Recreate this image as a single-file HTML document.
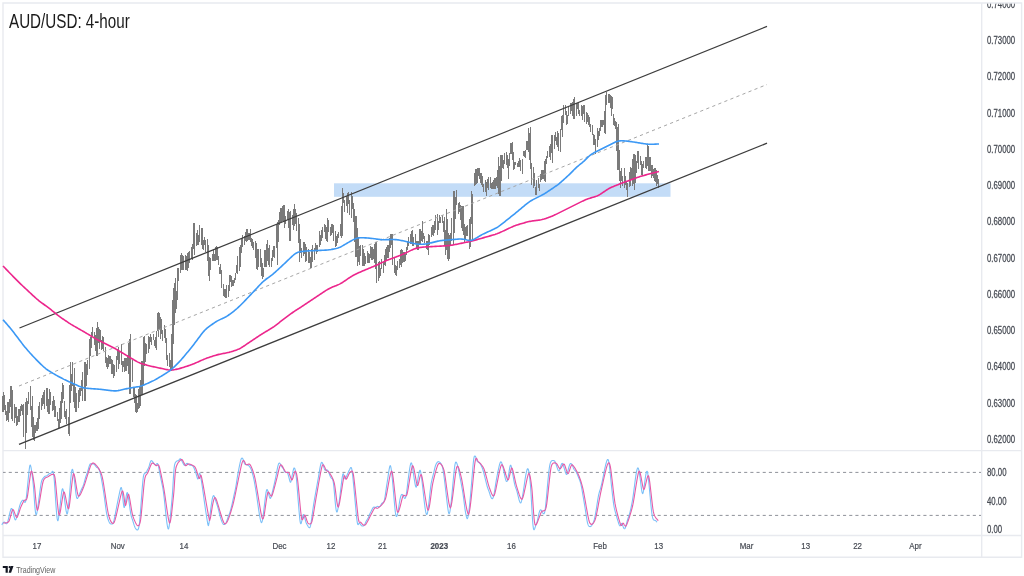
<!DOCTYPE html>
<html><head><meta charset="utf-8"><style>
html,body{margin:0;padding:0;width:1024px;height:576px;overflow:hidden;background:#fff}
</style></head><body>
<svg width="1024" height="576" viewBox="0 0 1024 576" style="position:absolute;left:0;top:0;will-change:transform">
<defs><clipPath id="pa"><rect x="982" y="3.8" width="40" height="446"/></clipPath></defs>
<rect width="1024" height="576" fill="#ffffff"/>
<g fill="none" stroke="#e8eaef" stroke-width="1.4">
<path d="M3,3 H1021.6 V557.2 H3 Z"/>
<path d="M981.7,3 V557.2"/>
<path d="M3,450.6 H1021.6"/>
<path d="M3,535.5 H1021.6"/>
</g>
<rect x="334" y="183.3" width="336.5" height="13.5" fill="#c3dcf7"/>
<g fill="#7a7a7a" shape-rendering="crispEdges"><rect x="2.48" y="396.03" width="1.05" height="15.72"/><rect x="3.71" y="394.57" width="1.05" height="14.95"/><rect x="4.94" y="405.26" width="1.05" height="10.10"/><rect x="6.17" y="410.91" width="1.05" height="9.98"/><rect x="7.40" y="401.65" width="1.05" height="18.00"/><rect x="8.63" y="399.07" width="1.05" height="14.34"/><rect x="9.86" y="386.00" width="1.05" height="21.29"/><rect x="11.09" y="394.21" width="1.05" height="24.61"/><rect x="12.32" y="389.73" width="1.05" height="31.29"/><rect x="13.55" y="403.81" width="1.05" height="19.58"/><rect x="14.78" y="406.97" width="1.05" height="10.99"/><rect x="16.01" y="406.77" width="1.05" height="15.07"/><rect x="17.24" y="416.47" width="1.05" height="8.39"/><rect x="18.47" y="409.24" width="1.05" height="13.12"/><rect x="19.70" y="405.60" width="1.05" height="10.45"/><rect x="20.93" y="403.83" width="1.05" height="7.36"/><rect x="22.16" y="404.89" width="1.05" height="9.97"/><rect x="23.39" y="403.96" width="1.05" height="32.55"/><rect x="24.62" y="401.52" width="1.05" height="31.01"/><rect x="25.85" y="398.15" width="1.05" height="34.75"/><rect x="27.08" y="401.23" width="1.05" height="13.37"/><rect x="28.31" y="391.92" width="1.05" height="12.16"/><rect x="29.54" y="390.11" width="1.05" height="19.91"/><rect x="30.77" y="405.92" width="1.05" height="21.32"/><rect x="32.00" y="403.95" width="1.05" height="33.23"/><rect x="33.23" y="417.18" width="1.05" height="23.24"/><rect x="34.46" y="425.00" width="1.05" height="8.15"/><rect x="35.69" y="421.93" width="1.05" height="9.09"/><rect x="36.91" y="418.37" width="1.05" height="12.33"/><rect x="38.14" y="405.70" width="1.05" height="22.92"/><rect x="39.37" y="402.23" width="1.05" height="17.17"/><rect x="40.60" y="398.00" width="1.05" height="12.34"/><rect x="41.83" y="395.45" width="1.05" height="10.23"/><rect x="43.06" y="392.24" width="1.05" height="11.75"/><rect x="44.29" y="390.25" width="1.05" height="18.45"/><rect x="45.52" y="388.48" width="1.05" height="17.16"/><rect x="46.75" y="389.52" width="1.05" height="22.05"/><rect x="47.98" y="399.47" width="1.05" height="14.29"/><rect x="49.21" y="390.37" width="1.05" height="22.37"/><rect x="50.44" y="392.20" width="1.05" height="12.84"/><rect x="51.67" y="401.02" width="1.05" height="9.82"/><rect x="52.90" y="395.72" width="1.05" height="14.66"/><rect x="54.13" y="399.57" width="1.05" height="17.49"/><rect x="55.36" y="405.87" width="1.05" height="11.04"/><rect x="56.59" y="411.88" width="1.05" height="8.81"/><rect x="57.82" y="419.09" width="1.05" height="8.59"/><rect x="59.05" y="407.75" width="1.05" height="19.50"/><rect x="60.28" y="401.45" width="1.05" height="21.37"/><rect x="61.51" y="384.05" width="1.05" height="16.80"/><rect x="62.74" y="384.97" width="1.05" height="14.47"/><rect x="63.97" y="401.42" width="1.05" height="15.97"/><rect x="65.20" y="411.21" width="1.05" height="7.30"/><rect x="66.43" y="408.78" width="1.05" height="15.25"/><rect x="67.66" y="416.70" width="1.05" height="17.24"/><rect x="68.89" y="385.27" width="1.05" height="48.93"/><rect x="70.12" y="366.78" width="1.05" height="35.94"/><rect x="71.35" y="374.48" width="1.05" height="16.92"/><rect x="72.58" y="382.83" width="1.05" height="19.14"/><rect x="73.81" y="367.82" width="1.05" height="37.40"/><rect x="75.04" y="386.95" width="1.05" height="24.68"/><rect x="76.27" y="400.98" width="1.05" height="10.62"/><rect x="77.50" y="390.27" width="1.05" height="17.89"/><rect x="78.73" y="388.00" width="1.05" height="14.10"/><rect x="79.96" y="388.00" width="1.05" height="7.64"/><rect x="81.19" y="380.15" width="1.05" height="10.88"/><rect x="82.42" y="372.06" width="1.05" height="28.64"/><rect x="83.65" y="362.48" width="1.05" height="25.77"/><rect x="84.88" y="362.47" width="1.05" height="35.26"/><rect x="86.11" y="364.09" width="1.05" height="21.54"/><rect x="87.34" y="359.73" width="1.05" height="14.89"/><rect x="88.58" y="338.99" width="1.05" height="30.21"/><rect x="89.81" y="336.55" width="1.05" height="19.62"/><rect x="91.04" y="332.49" width="1.05" height="15.09"/><rect x="92.27" y="326.70" width="1.05" height="9.27"/><rect x="93.50" y="331.97" width="1.05" height="12.53"/><rect x="94.73" y="334.59" width="1.05" height="16.61"/><rect x="95.96" y="327.78" width="1.05" height="28.09"/><rect x="97.19" y="329.06" width="1.05" height="25.81"/><rect x="98.42" y="326.61" width="1.05" height="16.10"/><rect x="99.65" y="329.88" width="1.05" height="11.74"/><rect x="100.88" y="339.66" width="1.05" height="10.35"/><rect x="102.11" y="335.52" width="1.05" height="13.90"/><rect x="103.34" y="337.36" width="1.05" height="13.72"/><rect x="104.57" y="346.50" width="1.05" height="16.88"/><rect x="105.80" y="357.10" width="1.05" height="9.76"/><rect x="107.03" y="358.11" width="1.05" height="10.73"/><rect x="108.26" y="355.08" width="1.05" height="12.05"/><rect x="109.49" y="356.05" width="1.05" height="7.82"/><rect x="110.72" y="358.97" width="1.05" height="14.53"/><rect x="111.95" y="360.10" width="1.05" height="14.35"/><rect x="113.18" y="364.38" width="1.05" height="13.09"/><rect x="114.41" y="364.75" width="1.05" height="10.78"/><rect x="115.64" y="356.05" width="1.05" height="16.15"/><rect x="116.87" y="349.23" width="1.05" height="10.93"/><rect x="118.10" y="346.79" width="1.05" height="13.10"/><rect x="119.33" y="352.25" width="1.05" height="11.55"/><rect x="120.56" y="353.75" width="1.05" height="10.80"/><rect x="121.79" y="360.84" width="1.05" height="11.55"/><rect x="123.02" y="360.52" width="1.05" height="6.06"/><rect x="124.25" y="357.63" width="1.05" height="14.03"/><rect x="125.48" y="357.90" width="1.05" height="12.84"/><rect x="126.71" y="355.00" width="1.05" height="10.70"/><rect x="127.94" y="342.70" width="1.05" height="31.25"/><rect x="129.17" y="339.47" width="1.05" height="54.28"/><rect x="130.40" y="338.78" width="1.05" height="50.68"/><rect x="131.63" y="360.43" width="1.05" height="21.34"/><rect x="132.86" y="387.25" width="1.05" height="9.92"/><rect x="134.09" y="388.09" width="1.05" height="15.13"/><rect x="135.32" y="394.10" width="1.05" height="17.98"/><rect x="136.55" y="402.78" width="1.05" height="9.32"/><rect x="137.78" y="388.81" width="1.05" height="19.69"/><rect x="139.01" y="386.85" width="1.05" height="21.03"/><rect x="140.24" y="380.34" width="1.05" height="19.96"/><rect x="141.47" y="361.48" width="1.05" height="33.95"/><rect x="142.69" y="340.58" width="1.05" height="45.57"/><rect x="143.92" y="346.24" width="1.05" height="19.83"/><rect x="145.15" y="343.19" width="1.05" height="19.06"/><rect x="146.38" y="343.57" width="1.05" height="10.85"/><rect x="147.61" y="336.19" width="1.05" height="16.46"/><rect x="148.84" y="337.42" width="1.05" height="11.33"/><rect x="150.07" y="333.64" width="1.05" height="8.71"/><rect x="151.30" y="336.64" width="1.05" height="8.40"/><rect x="152.53" y="333.97" width="1.05" height="5.68"/><rect x="153.76" y="339.74" width="1.05" height="6.75"/><rect x="154.99" y="337.11" width="1.05" height="11.36"/><rect x="156.22" y="331.44" width="1.05" height="17.16"/><rect x="157.45" y="312.79" width="1.05" height="18.02"/><rect x="158.68" y="312.76" width="1.05" height="16.92"/><rect x="159.91" y="326.34" width="1.05" height="12.08"/><rect x="161.14" y="318.85" width="1.05" height="15.20"/><rect x="162.37" y="330.44" width="1.05" height="10.66"/><rect x="163.60" y="324.91" width="1.05" height="12.63"/><rect x="164.83" y="329.21" width="1.05" height="14.12"/><rect x="166.06" y="338.30" width="1.05" height="22.01"/><rect x="167.29" y="355.44" width="1.05" height="10.25"/><rect x="168.52" y="353.07" width="1.05" height="13.55"/><rect x="169.75" y="360.20" width="1.05" height="10.54"/><rect x="170.98" y="333.82" width="1.05" height="37.15"/><rect x="172.21" y="326.25" width="1.05" height="44.06"/><rect x="173.44" y="288.06" width="1.05" height="56.30"/><rect x="174.67" y="277.79" width="1.05" height="35.16"/><rect x="175.90" y="290.67" width="1.05" height="18.63"/><rect x="177.13" y="268.47" width="1.05" height="26.04"/><rect x="178.36" y="268.26" width="1.05" height="13.22"/><rect x="179.59" y="255.16" width="1.05" height="17.82"/><rect x="180.82" y="252.59" width="1.05" height="9.80"/><rect x="182.05" y="255.06" width="1.05" height="14.94"/><rect x="183.28" y="256.31" width="1.05" height="13.69"/><rect x="184.51" y="255.19" width="1.05" height="15.25"/><rect x="185.74" y="255.86" width="1.05" height="13.67"/><rect x="186.97" y="252.55" width="1.05" height="15.33"/><rect x="188.20" y="252.23" width="1.05" height="15.75"/><rect x="189.43" y="251.18" width="1.05" height="11.95"/><rect x="190.66" y="246.91" width="1.05" height="10.82"/><rect x="191.89" y="243.92" width="1.05" height="15.80"/><rect x="193.12" y="222.86" width="1.05" height="25.79"/><rect x="194.35" y="230.43" width="1.05" height="20.95"/><rect x="195.58" y="232.96" width="1.05" height="12.78"/><rect x="196.81" y="229.71" width="1.05" height="15.77"/><rect x="198.04" y="235.31" width="1.05" height="9.85"/><rect x="199.27" y="225.36" width="1.05" height="16.76"/><rect x="200.50" y="228.14" width="1.05" height="16.83"/><rect x="201.73" y="227.74" width="1.05" height="21.38"/><rect x="202.96" y="239.99" width="1.05" height="10.01"/><rect x="204.19" y="237.20" width="1.05" height="7.78"/><rect x="205.42" y="239.96" width="1.05" height="12.03"/><rect x="206.65" y="239.46" width="1.05" height="21.11"/><rect x="207.88" y="244.89" width="1.05" height="30.89"/><rect x="209.11" y="257.39" width="1.05" height="20.42"/><rect x="210.34" y="257.91" width="1.05" height="11.69"/><rect x="211.57" y="253.61" width="1.05" height="7.26"/><rect x="212.80" y="249.70" width="1.05" height="11.27"/><rect x="214.03" y="254.13" width="1.05" height="7.03"/><rect x="215.26" y="247.28" width="1.05" height="13.59"/><rect x="216.49" y="247.26" width="1.05" height="12.62"/><rect x="217.72" y="255.57" width="1.05" height="9.78"/><rect x="218.95" y="267.32" width="1.05" height="7.02"/><rect x="220.18" y="264.16" width="1.05" height="9.81"/><rect x="221.41" y="269.83" width="1.05" height="17.76"/><rect x="222.64" y="284.45" width="1.05" height="11.59"/><rect x="223.87" y="288.76" width="1.05" height="8.61"/><rect x="225.10" y="289.40" width="1.05" height="8.58"/><rect x="226.33" y="287.35" width="1.05" height="10.31"/><rect x="227.56" y="285.25" width="1.05" height="11.76"/><rect x="228.79" y="275.24" width="1.05" height="16.11"/><rect x="230.02" y="275.24" width="1.05" height="7.12"/><rect x="231.25" y="276.27" width="1.05" height="10.65"/><rect x="232.48" y="279.84" width="1.05" height="6.46"/><rect x="233.71" y="277.72" width="1.05" height="5.73"/><rect x="234.94" y="273.27" width="1.05" height="7.11"/><rect x="236.17" y="265.39" width="1.05" height="7.60"/><rect x="237.40" y="255.55" width="1.05" height="18.41"/><rect x="238.63" y="247.47" width="1.05" height="16.57"/><rect x="239.86" y="244.72" width="1.05" height="22.28"/><rect x="241.09" y="237.71" width="1.05" height="15.16"/><rect x="242.32" y="235.16" width="1.05" height="11.57"/><rect x="243.55" y="235.50" width="1.05" height="9.50"/><rect x="244.78" y="232.26" width="1.05" height="8.29"/><rect x="246.01" y="229.40" width="1.05" height="12.11"/><rect x="247.24" y="229.87" width="1.05" height="11.18"/><rect x="248.47" y="232.97" width="1.05" height="7.08"/><rect x="249.70" y="234.61" width="1.05" height="7.12"/><rect x="250.93" y="238.44" width="1.05" height="7.59"/><rect x="252.16" y="238.70" width="1.05" height="9.61"/><rect x="253.39" y="242.08" width="1.05" height="7.46"/><rect x="254.62" y="241.43" width="1.05" height="16.68"/><rect x="255.85" y="242.75" width="1.05" height="26.50"/><rect x="257.08" y="254.94" width="1.05" height="14.98"/><rect x="258.31" y="248.75" width="1.05" height="18.52"/><rect x="259.54" y="248.75" width="1.05" height="18.25"/><rect x="260.77" y="257.79" width="1.05" height="18.35"/><rect x="262.00" y="268.32" width="1.05" height="10.33"/><rect x="263.23" y="267.58" width="1.05" height="9.07"/><rect x="264.46" y="249.68" width="1.05" height="16.83"/><rect x="265.69" y="244.18" width="1.05" height="22.92"/><rect x="266.92" y="240.53" width="1.05" height="19.30"/><rect x="268.15" y="247.89" width="1.05" height="16.98"/><rect x="269.38" y="248.65" width="1.05" height="18.07"/><rect x="270.61" y="257.66" width="1.05" height="9.67"/><rect x="271.84" y="250.33" width="1.05" height="10.64"/><rect x="273.07" y="245.58" width="1.05" height="11.77"/><rect x="274.30" y="245.95" width="1.05" height="12.37"/><rect x="275.53" y="224.29" width="1.05" height="23.78"/><rect x="276.76" y="224.03" width="1.05" height="39.91"/><rect x="277.99" y="219.61" width="1.05" height="21.95"/><rect x="279.22" y="212.39" width="1.05" height="13.04"/><rect x="280.45" y="208.08" width="1.05" height="13.98"/><rect x="281.68" y="205.67" width="1.05" height="15.72"/><rect x="282.91" y="205.06" width="1.05" height="17.30"/><rect x="284.14" y="207.47" width="1.05" height="16.51"/><rect x="285.37" y="215.92" width="1.05" height="8.02"/><rect x="286.60" y="211.00" width="1.05" height="8.65"/><rect x="287.83" y="209.09" width="1.05" height="18.83"/><rect x="289.06" y="212.09" width="1.05" height="28.56"/><rect x="290.29" y="219.86" width="1.05" height="19.59"/><rect x="291.52" y="214.93" width="1.05" height="10.14"/><rect x="292.75" y="208.99" width="1.05" height="20.90"/><rect x="293.98" y="208.66" width="1.05" height="17.12"/><rect x="295.21" y="209.45" width="1.05" height="14.30"/><rect x="296.44" y="212.56" width="1.05" height="18.64"/><rect x="297.67" y="217.67" width="1.05" height="25.74"/><rect x="298.90" y="233.73" width="1.05" height="27.99"/><rect x="300.13" y="239.19" width="1.05" height="14.12"/><rect x="301.36" y="248.06" width="1.05" height="9.94"/><rect x="302.59" y="242.39" width="1.05" height="13.64"/><rect x="303.82" y="242.01" width="1.05" height="11.73"/><rect x="305.05" y="244.47" width="1.05" height="17.51"/><rect x="306.28" y="246.93" width="1.05" height="14.10"/><rect x="307.51" y="249.39" width="1.05" height="13.95"/><rect x="308.74" y="251.77" width="1.05" height="10.77"/><rect x="309.97" y="256.90" width="1.05" height="11.04"/><rect x="311.20" y="248.79" width="1.05" height="17.52"/><rect x="312.43" y="244.65" width="1.05" height="17.16"/><rect x="313.66" y="248.07" width="1.05" height="12.09"/><rect x="314.89" y="242.72" width="1.05" height="8.52"/><rect x="316.12" y="245.06" width="1.05" height="9.41"/><rect x="317.36" y="244.61" width="1.05" height="7.42"/><rect x="318.59" y="230.97" width="1.05" height="15.91"/><rect x="319.82" y="235.14" width="1.05" height="9.65"/><rect x="321.05" y="229.68" width="1.05" height="11.55"/><rect x="322.28" y="227.39" width="1.05" height="10.31"/><rect x="323.51" y="223.69" width="1.05" height="7.86"/><rect x="324.74" y="225.05" width="1.05" height="13.76"/><rect x="325.97" y="227.24" width="1.05" height="14.21"/><rect x="327.20" y="217.86" width="1.05" height="15.19"/><rect x="328.43" y="220.20" width="1.05" height="11.71"/><rect x="329.66" y="226.95" width="1.05" height="9.05"/><rect x="330.89" y="223.75" width="1.05" height="11.47"/><rect x="332.12" y="223.75" width="1.05" height="8.82"/><rect x="333.35" y="225.15" width="1.05" height="16.28"/><rect x="334.58" y="230.71" width="1.05" height="16.02"/><rect x="335.81" y="236.24" width="1.05" height="9.98"/><rect x="337.04" y="234.44" width="1.05" height="8.48"/><rect x="338.27" y="231.98" width="1.05" height="6.36"/><rect x="339.50" y="223.50" width="1.05" height="12.47"/><rect x="340.73" y="206.07" width="1.05" height="32.20"/><rect x="341.96" y="189.26" width="1.05" height="18.17"/><rect x="343.19" y="192.94" width="1.05" height="10.12"/><rect x="344.42" y="199.76" width="1.05" height="12.49"/><rect x="345.65" y="195.81" width="1.05" height="9.88"/><rect x="346.88" y="193.00" width="1.05" height="13.76"/><rect x="348.11" y="191.90" width="1.05" height="11.65"/><rect x="349.34" y="200.20" width="1.05" height="14.44"/><rect x="350.57" y="202.22" width="1.05" height="14.98"/><rect x="351.80" y="195.81" width="1.05" height="13.64"/><rect x="353.03" y="202.62" width="1.05" height="19.53"/><rect x="354.26" y="208.94" width="1.05" height="33.54"/><rect x="355.49" y="216.23" width="1.05" height="41.09"/><rect x="356.72" y="234.43" width="1.05" height="31.06"/><rect x="357.95" y="236.84" width="1.05" height="24.87"/><rect x="359.18" y="246.00" width="1.05" height="18.79"/><rect x="360.41" y="245.14" width="1.05" height="11.29"/><rect x="361.64" y="254.99" width="1.05" height="10.51"/><rect x="362.87" y="249.00" width="1.05" height="16.50"/><rect x="364.10" y="254.78" width="1.05" height="10.72"/><rect x="365.33" y="255.91" width="1.05" height="8.27"/><rect x="366.56" y="251.34" width="1.05" height="11.66"/><rect x="367.79" y="252.74" width="1.05" height="10.26"/><rect x="369.02" y="254.41" width="1.05" height="8.59"/><rect x="370.25" y="245.51" width="1.05" height="12.75"/><rect x="371.48" y="247.17" width="1.05" height="13.11"/><rect x="372.71" y="248.82" width="1.05" height="10.51"/><rect x="373.94" y="243.79" width="1.05" height="19.54"/><rect x="375.17" y="242.33" width="1.05" height="26.39"/><rect x="376.40" y="249.35" width="1.05" height="31.67"/><rect x="377.63" y="262.05" width="1.05" height="18.92"/><rect x="378.86" y="261.47" width="1.05" height="16.22"/><rect x="380.09" y="267.91" width="1.05" height="8.58"/><rect x="381.32" y="259.37" width="1.05" height="9.19"/><rect x="382.55" y="261.83" width="1.05" height="11.07"/><rect x="383.78" y="255.15" width="1.05" height="9.87"/><rect x="385.01" y="249.17" width="1.05" height="16.81"/><rect x="386.24" y="247.33" width="1.05" height="12.21"/><rect x="387.47" y="245.44" width="1.05" height="12.50"/><rect x="388.70" y="238.16" width="1.05" height="14.09"/><rect x="389.93" y="237.31" width="1.05" height="10.54"/><rect x="391.16" y="234.25" width="1.05" height="11.17"/><rect x="392.39" y="237.92" width="1.05" height="27.51"/><rect x="393.62" y="257.10" width="1.05" height="16.18"/><rect x="394.85" y="264.85" width="1.05" height="10.26"/><rect x="396.08" y="266.30" width="1.05" height="7.76"/><rect x="397.31" y="260.96" width="1.05" height="9.41"/><rect x="398.54" y="258.57" width="1.05" height="9.25"/><rect x="399.77" y="249.94" width="1.05" height="14.77"/><rect x="401.00" y="257.86" width="1.05" height="8.97"/><rect x="402.23" y="250.28" width="1.05" height="12.79"/><rect x="403.46" y="251.51" width="1.05" height="10.26"/><rect x="404.69" y="254.08" width="1.05" height="6.45"/><rect x="405.92" y="246.95" width="1.05" height="7.60"/><rect x="407.15" y="240.80" width="1.05" height="9.17"/><rect x="408.38" y="237.07" width="1.05" height="9.34"/><rect x="409.61" y="234.15" width="1.05" height="9.40"/><rect x="410.84" y="231.23" width="1.05" height="12.32"/><rect x="412.07" y="232.24" width="1.05" height="13.68"/><rect x="413.30" y="236.70" width="1.05" height="9.27"/><rect x="414.53" y="233.86" width="1.05" height="9.94"/><rect x="415.76" y="241.38" width="1.05" height="7.17"/><rect x="416.99" y="240.60" width="1.05" height="9.28"/><rect x="418.22" y="241.31" width="1.05" height="8.61"/><rect x="419.45" y="228.51" width="1.05" height="16.55"/><rect x="420.68" y="230.89" width="1.05" height="9.67"/><rect x="421.91" y="229.56" width="1.05" height="12.78"/><rect x="423.14" y="233.28" width="1.05" height="5.26"/><rect x="424.37" y="235.51" width="1.05" height="7.43"/><rect x="425.60" y="240.50" width="1.05" height="8.38"/><rect x="426.83" y="240.89" width="1.05" height="8.93"/><rect x="428.06" y="234.14" width="1.05" height="14.08"/><rect x="429.29" y="234.84" width="1.05" height="10.12"/><rect x="430.52" y="226.51" width="1.05" height="10.78"/><rect x="431.75" y="225.22" width="1.05" height="9.43"/><rect x="432.98" y="224.88" width="1.05" height="10.62"/><rect x="434.21" y="221.49" width="1.05" height="11.96"/><rect x="435.44" y="214.71" width="1.05" height="15.48"/><rect x="436.67" y="213.81" width="1.05" height="16.75"/><rect x="437.90" y="221.04" width="1.05" height="8.49"/><rect x="439.13" y="215.49" width="1.05" height="7.38"/><rect x="440.36" y="216.90" width="1.05" height="6.35"/><rect x="441.59" y="215.24" width="1.05" height="8.21"/><rect x="442.82" y="221.43" width="1.05" height="10.84"/><rect x="444.05" y="216.58" width="1.05" height="28.99"/><rect x="445.28" y="229.91" width="1.05" height="24.83"/><rect x="446.51" y="219.25" width="1.05" height="39.97"/><rect x="447.74" y="232.54" width="1.05" height="17.66"/><rect x="448.97" y="234.87" width="1.05" height="24.26"/><rect x="450.20" y="233.24" width="1.05" height="12.64"/><rect x="451.43" y="218.36" width="1.05" height="22.31"/><rect x="452.66" y="191.22" width="1.05" height="53.56"/><rect x="453.89" y="190.61" width="1.05" height="24.27"/><rect x="455.12" y="196.84" width="1.05" height="21.69"/><rect x="456.35" y="190.00" width="1.05" height="15.00"/><rect x="457.58" y="202.74" width="1.05" height="11.01"/><rect x="458.81" y="202.45" width="1.05" height="9.89"/><rect x="460.04" y="204.88" width="1.05" height="15.49"/><rect x="461.27" y="205.59" width="1.05" height="22.30"/><rect x="462.50" y="206.20" width="1.05" height="28.77"/><rect x="463.73" y="223.68" width="1.05" height="19.42"/><rect x="464.96" y="227.49" width="1.05" height="12.19"/><rect x="466.19" y="226.42" width="1.05" height="9.56"/><rect x="467.42" y="224.86" width="1.05" height="11.12"/><rect x="468.65" y="218.64" width="1.05" height="16.85"/><rect x="469.88" y="216.97" width="1.05" height="30.42"/><rect x="471.11" y="190.51" width="1.05" height="33.62"/><rect x="472.34" y="194.42" width="1.05" height="26.02"/><rect x="473.57" y="172.77" width="1.05" height="13.42"/><rect x="474.80" y="168.53" width="1.05" height="16.32"/><rect x="476.03" y="168.64" width="1.05" height="14.90"/><rect x="477.26" y="172.88" width="1.05" height="9.75"/><rect x="478.49" y="167.75" width="1.05" height="7.84"/><rect x="479.72" y="173.29" width="1.05" height="9.43"/><rect x="480.95" y="173.30" width="1.05" height="11.78"/><rect x="482.18" y="176.12" width="1.05" height="10.64"/><rect x="483.41" y="183.85" width="1.05" height="7.67"/><rect x="484.64" y="179.81" width="1.05" height="12.32"/><rect x="485.87" y="181.66" width="1.05" height="13.43"/><rect x="487.10" y="179.24" width="1.05" height="8.32"/><rect x="488.33" y="176.76" width="1.05" height="13.50"/><rect x="489.56" y="177.12" width="1.05" height="10.48"/><rect x="490.79" y="182.83" width="1.05" height="6.00"/><rect x="492.02" y="181.57" width="1.05" height="7.43"/><rect x="493.25" y="180.31" width="1.05" height="8.69"/><rect x="494.48" y="177.98" width="1.05" height="11.00"/><rect x="495.71" y="176.75" width="1.05" height="8.82"/><rect x="496.94" y="170.09" width="1.05" height="17.86"/><rect x="498.17" y="157.14" width="1.05" height="37.17"/><rect x="499.40" y="165.89" width="1.05" height="29.97"/><rect x="500.63" y="154.92" width="1.05" height="26.51"/><rect x="501.86" y="155.38" width="1.05" height="12.73"/><rect x="503.09" y="159.98" width="1.05" height="8.98"/><rect x="504.32" y="152.66" width="1.05" height="11.70"/><rect x="505.55" y="151.87" width="1.05" height="13.34"/><rect x="506.78" y="154.66" width="1.05" height="13.28"/><rect x="508.01" y="159.61" width="1.05" height="17.87"/><rect x="509.24" y="153.09" width="1.05" height="12.76"/><rect x="510.47" y="142.93" width="1.05" height="11.11"/><rect x="511.70" y="142.86" width="1.05" height="15.62"/><rect x="512.93" y="152.18" width="1.05" height="15.82"/><rect x="514.16" y="161.88" width="1.05" height="7.03"/><rect x="515.39" y="161.55" width="1.05" height="3.14"/><rect x="516.62" y="162.61" width="1.05" height="4.38"/><rect x="517.85" y="160.97" width="1.05" height="5.86"/><rect x="519.08" y="157.82" width="1.05" height="6.38"/><rect x="520.31" y="159.57" width="1.05" height="11.27"/><rect x="521.54" y="158.77" width="1.05" height="15.05"/><rect x="522.77" y="150.96" width="1.05" height="5.30"/><rect x="524.00" y="151.18" width="1.05" height="5.56"/><rect x="525.23" y="149.99" width="1.05" height="7.59"/><rect x="526.46" y="141.31" width="1.05" height="8.90"/><rect x="527.69" y="128.42" width="1.05" height="23.13"/><rect x="528.92" y="133.33" width="1.05" height="26.75"/><rect x="530.15" y="126.77" width="1.05" height="41.97"/><rect x="531.38" y="163.12" width="1.05" height="21.44"/><rect x="532.61" y="166.79" width="1.05" height="19.65"/><rect x="533.84" y="172.86" width="1.05" height="13.25"/><rect x="535.07" y="186.82" width="1.05" height="8.18"/><rect x="536.30" y="180.15" width="1.05" height="7.79"/><rect x="537.53" y="177.57" width="1.05" height="10.40"/><rect x="538.76" y="183.59" width="1.05" height="7.29"/><rect x="539.99" y="173.86" width="1.05" height="8.39"/><rect x="541.22" y="170.17" width="1.05" height="9.96"/><rect x="542.45" y="170.47" width="1.05" height="8.98"/><rect x="543.68" y="161.19" width="1.05" height="20.13"/><rect x="544.91" y="159.30" width="1.05" height="11.31"/><rect x="546.14" y="155.92" width="1.05" height="7.79"/><rect x="547.37" y="151.05" width="1.05" height="6.74"/><rect x="548.60" y="146.07" width="1.05" height="10.56"/><rect x="549.83" y="148.98" width="1.05" height="11.48"/><rect x="551.06" y="135.12" width="1.05" height="18.17"/><rect x="552.29" y="146.43" width="1.05" height="15.38"/><rect x="553.52" y="135.36" width="1.05" height="13.50"/><rect x="554.75" y="132.43" width="1.05" height="8.87"/><rect x="555.98" y="136.55" width="1.05" height="8.07"/><rect x="557.21" y="131.09" width="1.05" height="16.19"/><rect x="558.44" y="133.05" width="1.05" height="18.38"/><rect x="559.67" y="135.99" width="1.05" height="15.41"/><rect x="560.90" y="115.96" width="1.05" height="13.90"/><rect x="562.13" y="115.26" width="1.05" height="17.53"/><rect x="563.36" y="104.61" width="1.05" height="17.90"/><rect x="564.59" y="104.67" width="1.05" height="10.03"/><rect x="565.82" y="111.01" width="1.05" height="13.85"/><rect x="567.05" y="115.04" width="1.05" height="9.03"/><rect x="568.28" y="105.55" width="1.05" height="10.71"/><rect x="569.51" y="102.75" width="1.05" height="11.12"/><rect x="570.74" y="102.75" width="1.05" height="8.64"/><rect x="571.97" y="102.05" width="1.05" height="14.02"/><rect x="573.20" y="98.54" width="1.05" height="20.40"/><rect x="574.43" y="98.22" width="1.05" height="13.26"/><rect x="575.66" y="103.15" width="1.05" height="12.77"/><rect x="576.89" y="102.77" width="1.05" height="6.18"/><rect x="578.12" y="102.98" width="1.05" height="10.79"/><rect x="579.35" y="109.71" width="1.05" height="6.63"/><rect x="580.58" y="104.58" width="1.05" height="10.93"/><rect x="581.81" y="105.60" width="1.05" height="14.12"/><rect x="583.04" y="105.25" width="1.05" height="8.59"/><rect x="584.27" y="110.68" width="1.05" height="11.69"/><rect x="585.50" y="112.20" width="1.05" height="11.87"/><rect x="586.73" y="112.95" width="1.05" height="9.25"/><rect x="587.96" y="114.79" width="1.05" height="9.73"/><rect x="589.19" y="116.82" width="1.05" height="9.99"/><rect x="590.42" y="123.94" width="1.05" height="7.84"/><rect x="591.65" y="125.45" width="1.05" height="9.23"/><rect x="592.88" y="134.46" width="1.05" height="10.40"/><rect x="594.11" y="134.81" width="1.05" height="10.14"/><rect x="595.34" y="142.52" width="1.05" height="11.41"/><rect x="596.57" y="133.30" width="1.05" height="13.28"/><rect x="597.80" y="131.41" width="1.05" height="8.97"/><rect x="599.03" y="128.43" width="1.05" height="7.10"/><rect x="600.26" y="120.15" width="1.05" height="11.06"/><rect x="601.49" y="119.64" width="1.05" height="7.71"/><rect x="602.72" y="119.62" width="1.05" height="5.35"/><rect x="603.95" y="110.51" width="1.05" height="22.37"/><rect x="605.18" y="105.62" width="1.05" height="27.19"/><rect x="606.41" y="91.66" width="1.05" height="13.21"/><rect x="607.64" y="93.82" width="1.05" height="8.96"/><rect x="608.87" y="94.25" width="1.05" height="8.75"/><rect x="610.10" y="95.08" width="1.05" height="7.30"/><rect x="611.33" y="96.23" width="1.05" height="19.81"/><rect x="612.56" y="113.97" width="1.05" height="10.67"/><rect x="613.79" y="118.48" width="1.05" height="7.85"/><rect x="615.02" y="120.67" width="1.05" height="8.77"/><rect x="616.25" y="122.29" width="1.05" height="28.71"/><rect x="617.48" y="126.66" width="1.05" height="43.28"/><rect x="618.71" y="149.63" width="1.05" height="31.02"/><rect x="619.94" y="170.61" width="1.05" height="17.37"/><rect x="621.17" y="168.43" width="1.05" height="12.63"/><rect x="622.40" y="175.76" width="1.05" height="10.39"/><rect x="623.63" y="168.44" width="1.05" height="19.89"/><rect x="624.86" y="176.35" width="1.05" height="8.58"/><rect x="626.09" y="181.50" width="1.05" height="8.58"/><rect x="627.32" y="182.72" width="1.05" height="11.03"/><rect x="628.55" y="171.92" width="1.05" height="15.10"/><rect x="629.78" y="167.10" width="1.05" height="17.44"/><rect x="631.01" y="168.34" width="1.05" height="11.56"/><rect x="632.24" y="159.40" width="1.05" height="26.72"/><rect x="633.47" y="153.99" width="1.05" height="30.49"/><rect x="634.70" y="155.24" width="1.05" height="27.33"/><rect x="635.93" y="160.87" width="1.05" height="12.16"/><rect x="637.16" y="151.21" width="1.05" height="12.28"/><rect x="638.39" y="159.07" width="1.05" height="10.29"/><rect x="639.62" y="156.05" width="1.05" height="9.21"/><rect x="640.85" y="160.85" width="1.05" height="14.45"/><rect x="642.08" y="163.76" width="1.05" height="6.87"/><rect x="643.31" y="161.47" width="1.05" height="6.56"/><rect x="644.54" y="156.62" width="1.05" height="11.56"/><rect x="645.77" y="156.55" width="1.05" height="12.15"/><rect x="647.00" y="147.19" width="1.05" height="18.81"/><rect x="648.23" y="156.50" width="1.05" height="14.37"/><rect x="649.46" y="156.78" width="1.05" height="14.38"/><rect x="650.69" y="164.86" width="1.05" height="12.79"/><rect x="651.92" y="164.58" width="1.05" height="11.24"/><rect x="653.15" y="169.46" width="1.05" height="8.79"/><rect x="654.38" y="168.29" width="1.05" height="12.50"/><rect x="655.61" y="169.55" width="1.05" height="16.51"/><rect x="656.84" y="175.30" width="1.05" height="8.93"/><rect x="658.07" y="178.67" width="1.05" height="8.42"/><rect x="2.51" y="392.40" width="1" height="19.35"/><rect x="7.51" y="401.75" width="1" height="20.00"/><rect x="10.51" y="386.00" width="1" height="32.00"/><rect x="11.51" y="390.50" width="1" height="28.50"/><rect x="15.51" y="406.75" width="1" height="18.75"/><rect x="24.51" y="403.60" width="1" height="45.65"/><rect x="29.51" y="385.50" width="1" height="15.00"/><rect x="31.51" y="395.50" width="1" height="40.00"/><rect x="33.51" y="428.00" width="1" height="12.50"/><rect x="46.51" y="388.00" width="1" height="21.00"/><rect x="48.51" y="389.00" width="1" height="25.00"/><rect x="58.51" y="413.00" width="1" height="15.00"/><rect x="60.51" y="391.75" width="1" height="27.25"/><rect x="61.51" y="383.00" width="1" height="20.00"/><rect x="68.51" y="418.00" width="1" height="17.50"/><rect x="69.51" y="362.00" width="1" height="41.00"/><rect x="71.51" y="362.00" width="1" height="23.50"/><rect x="73.51" y="370.00" width="1" height="38.00"/><rect x="75.51" y="393.00" width="1" height="18.75"/><rect x="83.51" y="370.00" width="1" height="31.00"/><rect x="84.51" y="362.25" width="1" height="38.35"/><rect x="96.51" y="322.25" width="1" height="33.75"/><rect x="98.51" y="328.50" width="1" height="20.00"/><rect x="112.51" y="364.75" width="1" height="12.75"/><rect x="117.51" y="349.75" width="1" height="18.75"/><rect x="120.51" y="343.50" width="1" height="15.00"/><rect x="129.51" y="333.50" width="1" height="60.25"/><rect x="135.51" y="395.00" width="1" height="17.50"/><rect x="139.51" y="381.25" width="1" height="25.00"/><rect x="142.51" y="337.00" width="1" height="45.50"/><rect x="143.51" y="336.00" width="1" height="26.25"/><rect x="155.51" y="339.75" width="1" height="10.00"/><rect x="157.51" y="312.25" width="1" height="25.00"/><rect x="159.51" y="317.25" width="1" height="21.25"/><rect x="170.51" y="357.25" width="1" height="13.75"/><rect x="171.51" y="300.00" width="1" height="70.00"/><rect x="173.51" y="282.50" width="1" height="42.25"/><rect x="176.51" y="275.00" width="1" height="25.00"/><rect x="180.51" y="252.50" width="1" height="17.50"/><rect x="186.51" y="257.50" width="1" height="13.75"/><rect x="193.51" y="222.50" width="1" height="32.50"/><rect x="206.51" y="239.40" width="1" height="18.10"/><rect x="208.51" y="261.25" width="1" height="20.00"/><rect x="215.51" y="246.25" width="1" height="13.75"/><rect x="225.51" y="285.00" width="1" height="13.00"/><rect x="238.51" y="248.75" width="1" height="22.50"/><rect x="246.51" y="229.40" width="1" height="11.85"/><rect x="249.51" y="229.40" width="1" height="9.35"/><rect x="256.51" y="248.75" width="1" height="21.25"/><rect x="261.51" y="262.50" width="1" height="16.25"/><rect x="266.51" y="240.00" width="1" height="21.25"/><rect x="268.51" y="245.00" width="1" height="18.75"/><rect x="276.51" y="221.90" width="1" height="43.10"/><rect x="283.51" y="205.00" width="1" height="22.50"/><rect x="289.51" y="211.25" width="1" height="30.00"/><rect x="293.51" y="203.75" width="1" height="20.00"/><rect x="298.51" y="223.75" width="1" height="38.00"/><rect x="310.51" y="253.00" width="1" height="15.00"/><rect x="326.51" y="217.50" width="1" height="24.25"/><rect x="334.51" y="233.75" width="1" height="13.00"/><rect x="341.51" y="197.50" width="1" height="38.75"/><rect x="341.51" y="188.10" width="1" height="10.65"/><rect x="346.51" y="196.25" width="1" height="16.25"/><rect x="350.51" y="191.90" width="1" height="25.60"/><rect x="356.51" y="228.00" width="1" height="37.50"/><rect x="361.51" y="245.00" width="1" height="20.50"/><rect x="363.51" y="253.00" width="1" height="12.50"/><rect x="375.51" y="241.75" width="1" height="41.25"/><rect x="389.51" y="234.25" width="1" height="8.75"/><rect x="391.51" y="234.25" width="1" height="21.25"/><rect x="395.51" y="265.50" width="1" height="10.00"/><rect x="400.51" y="249.25" width="1" height="17.50"/><rect x="411.51" y="230.00" width="1" height="15.00"/><rect x="421.51" y="221.25" width="1" height="16.25"/><rect x="427.51" y="245.00" width="1" height="10.00"/><rect x="436.51" y="213.75" width="1" height="21.25"/><rect x="445.51" y="209.40" width="1" height="40.60"/><rect x="447.51" y="232.50" width="1" height="28.50"/><rect x="453.51" y="191.25" width="1" height="41.25"/><rect x="455.51" y="190.00" width="1" height="15.00"/><rect x="461.51" y="206.25" width="1" height="25.00"/><rect x="468.51" y="223.75" width="1" height="25.00"/><rect x="471.51" y="196.25" width="1" height="45.00"/><rect x="476.51" y="167.75" width="1" height="15.00"/><rect x="478.51" y="167.75" width="1" height="11.25"/><rect x="485.51" y="182.75" width="1" height="13.25"/><rect x="499.51" y="154.60" width="1" height="41.40"/><rect x="507.51" y="159.00" width="1" height="20.00"/><rect x="511.51" y="142.10" width="1" height="18.15"/><rect x="512.51" y="156.50" width="1" height="13.75"/><rect x="518.51" y="157.75" width="1" height="8.75"/><rect x="521.51" y="161.50" width="1" height="12.50"/><rect x="527.51" y="129.00" width="1" height="18.75"/><rect x="529.51" y="126.50" width="1" height="35.00"/><rect x="532.51" y="167.75" width="1" height="19.75"/><rect x="535.51" y="184.00" width="1" height="11.00"/><rect x="544.51" y="160.25" width="1" height="21.25"/><rect x="549.51" y="144.00" width="1" height="15.00"/><rect x="551.51" y="135.25" width="1" height="27.50"/><rect x="559.51" y="129.00" width="1" height="22.50"/><rect x="561.51" y="116.50" width="1" height="20.00"/><rect x="573.51" y="97.00" width="1" height="22.00"/><rect x="583.51" y="105.25" width="1" height="15.00"/><rect x="594.51" y="139.00" width="1" height="15.00"/><rect x="596.51" y="127.75" width="1" height="15.00"/><rect x="604.51" y="95.25" width="1" height="38.75"/><rect x="605.51" y="91.50" width="1" height="8.75"/><rect x="609.51" y="95.25" width="1" height="12.50"/><rect x="611.51" y="96.50" width="1" height="12.50"/><rect x="617.51" y="124.00" width="1" height="35.50"/><rect x="618.51" y="150.75" width="1" height="23.75"/><rect x="626.51" y="184.50" width="1" height="12.50"/><rect x="629.51" y="167.00" width="1" height="18.75"/><rect x="633.51" y="153.90" width="1" height="35.60"/><rect x="637.51" y="150.75" width="1" height="12.50"/><rect x="641.51" y="164.50" width="1" height="11.25"/><rect x="646.51" y="145.10" width="1" height="11.90"/><rect x="647.51" y="145.75" width="1" height="22.50"/><rect x="654.51" y="168.25" width="1" height="13.75"/><rect x="657.51" y="179.50" width="1" height="8.75"/></g>
<path d="M19,386 L767,84.5" stroke="#a6a6a6" stroke-width="1" stroke-dasharray="3.2,3.3" fill="none"/>
<path d="M19.5,328 L767,26.4" stroke="#3d3d3d" stroke-width="1.3" fill="none"/>
<path d="M19,444.4 L767,143.2" stroke="#3d3d3d" stroke-width="1.3" fill="none"/>
<path d="M3.00,266.00 L4.00,267.03 L5.00,268.06 L6.00,269.10 L7.00,270.13 L8.00,271.16 L9.00,272.19 L10.00,273.22 L11.00,274.25 L12.00,275.29 L13.00,276.32 L14.00,277.35 L15.00,278.37 L16.00,279.40 L17.00,280.41 L18.00,281.41 L19.00,282.40 L20.00,283.37 L21.00,284.33 L22.00,285.27 L23.00,286.21 L24.00,287.15 L25.00,288.08 L26.00,289.02 L27.00,289.95 L28.00,290.88 L29.00,291.82 L30.00,292.75 L31.00,293.68 L32.00,294.61 L33.00,295.54 L34.00,296.46 L35.00,297.37 L36.00,298.26 L37.00,299.13 L38.00,299.96 L39.00,300.76 L40.00,301.54 L41.00,302.29 L42.00,303.04 L43.00,303.77 L44.00,304.51 L45.00,305.24 L46.00,305.97 L47.00,306.71 L48.00,307.45 L49.00,308.19 L50.00,308.95 L51.00,309.72 L52.00,310.51 L53.00,311.32 L54.00,312.14 L55.00,312.96 L56.00,313.78 L57.00,314.58 L58.00,315.37 L59.00,316.12 L60.00,316.86 L61.00,317.57 L62.00,318.28 L63.00,318.97 L64.00,319.66 L65.00,320.35 L66.00,321.03 L67.00,321.71 L68.00,322.39 L69.00,323.05 L70.00,323.69 L71.00,324.31 L72.00,324.92 L73.00,325.51 L74.00,326.09 L75.00,326.66 L76.00,327.23 L77.00,327.80 L78.00,328.37 L79.00,328.94 L80.00,329.50 L81.00,330.07 L82.00,330.65 L83.00,331.22 L84.00,331.80 L85.00,332.39 L86.00,332.98 L87.00,333.58 L88.00,334.18 L89.00,334.78 L90.00,335.38 L91.00,335.98 L92.00,336.58 L93.00,337.18 L94.00,337.76 L95.00,338.34 L96.00,338.89 L97.00,339.43 L98.00,339.96 L99.00,340.47 L100.00,340.97 L101.00,341.47 L102.00,341.97 L103.00,342.46 L104.00,342.96 L105.00,343.45 L106.00,343.94 L107.00,344.44 L108.00,344.93 L109.00,345.43 L110.00,345.93 L111.00,346.43 L112.00,346.94 L113.00,347.46 L114.00,348.00 L115.00,348.56 L116.00,349.13 L117.00,349.71 L118.00,350.31 L119.00,350.90 L120.00,351.50 L121.00,352.10 L122.00,352.70 L123.00,353.30 L124.00,353.90 L125.00,354.50 L126.00,355.10 L127.00,355.70 L128.00,356.30 L129.00,356.90 L130.00,357.50 L131.00,358.10 L132.00,358.70 L133.00,359.30 L134.00,359.89 L135.00,360.48 L136.00,361.06 L137.00,361.61 L138.00,362.12 L139.00,362.59 L140.00,363.00 L141.00,363.37 L142.00,363.70 L143.00,364.01 L144.00,364.30 L145.00,364.59 L146.00,364.87 L147.00,365.15 L148.00,365.42 L149.00,365.68 L150.00,365.93 L151.00,366.18 L152.00,366.41 L153.00,366.64 L154.00,366.86 L155.00,367.08 L156.00,367.29 L157.00,367.51 L158.00,367.72 L159.00,367.94 L160.00,368.15 L161.00,368.37 L162.00,368.58 L163.00,368.80 L164.00,369.01 L165.00,369.23 L166.00,369.44 L167.00,369.63 L168.00,369.81 L169.00,369.95 L170.00,370.04 L171.00,370.07 L172.00,370.03 L173.00,369.92 L174.00,369.76 L175.00,369.58 L176.00,369.37 L177.00,369.14 L178.00,368.91 L179.00,368.66 L180.00,368.39 L181.00,368.11 L182.00,367.81 L183.00,367.50 L184.00,367.18 L185.00,366.86 L186.00,366.53 L187.00,366.20 L188.00,365.87 L189.00,365.54 L190.00,365.19 L191.00,364.84 L192.00,364.47 L193.00,364.08 L194.00,363.67 L195.00,363.24 L196.00,362.81 L197.00,362.36 L198.00,361.91 L199.00,361.46 L200.00,361.01 L201.00,360.56 L202.00,360.12 L203.00,359.69 L204.00,359.27 L205.00,358.87 L206.00,358.49 L207.00,358.12 L208.00,357.77 L209.00,357.43 L210.00,357.09 L211.00,356.76 L212.00,356.43 L213.00,356.10 L214.00,355.78 L215.00,355.46 L216.00,355.16 L217.00,354.88 L218.00,354.62 L219.00,354.38 L220.00,354.16 L221.00,353.96 L222.00,353.76 L223.00,353.57 L224.00,353.38 L225.00,353.19 L226.00,352.99 L227.00,352.79 L228.00,352.58 L229.00,352.35 L230.00,352.09 L231.00,351.81 L232.00,351.50 L233.00,351.18 L234.00,350.84 L235.00,350.49 L236.00,350.13 L237.00,349.76 L238.00,349.35 L239.00,348.91 L240.00,348.42 L241.00,347.88 L242.00,347.28 L243.00,346.65 L244.00,345.99 L245.00,345.32 L246.00,344.64 L247.00,343.96 L248.00,343.28 L249.00,342.60 L250.00,341.92 L251.00,341.24 L252.00,340.57 L253.00,339.90 L254.00,339.23 L255.00,338.57 L256.00,337.90 L257.00,337.24 L258.00,336.57 L259.00,335.92 L260.00,335.27 L261.00,334.63 L262.00,333.99 L263.00,333.37 L264.00,332.76 L265.00,332.15 L266.00,331.55 L267.00,330.95 L268.00,330.35 L269.00,329.74 L270.00,329.14 L271.00,328.52 L272.00,327.88 L273.00,327.22 L274.00,326.54 L275.00,325.82 L276.00,325.08 L277.00,324.32 L278.00,323.54 L279.00,322.76 L280.00,321.98 L281.00,321.20 L282.00,320.42 L283.00,319.65 L284.00,318.89 L285.00,318.13 L286.00,317.38 L287.00,316.63 L288.00,315.88 L289.00,315.14 L290.00,314.40 L291.00,313.67 L292.00,312.97 L293.00,312.27 L294.00,311.60 L295.00,310.94 L296.00,310.29 L297.00,309.65 L298.00,309.01 L299.00,308.36 L300.00,307.71 L301.00,307.06 L302.00,306.40 L303.00,305.74 L304.00,305.07 L305.00,304.41 L306.00,303.74 L307.00,303.07 L308.00,302.41 L309.00,301.74 L310.00,301.08 L311.00,300.41 L312.00,299.75 L313.00,299.09 L314.00,298.42 L315.00,297.76 L316.00,297.09 L317.00,296.43 L318.00,295.76 L319.00,295.09 L320.00,294.43 L321.00,293.76 L322.00,293.09 L323.00,292.42 L324.00,291.75 L325.00,291.09 L326.00,290.45 L327.00,289.82 L328.00,289.23 L329.00,288.68 L330.00,288.17 L331.00,287.70 L332.00,287.27 L333.00,286.86 L334.00,286.46 L335.00,286.06 L336.00,285.66 L337.00,285.25 L338.00,284.82 L339.00,284.36 L340.00,283.86 L341.00,283.31 L342.00,282.72 L343.00,282.09 L344.00,281.44 L345.00,280.76 L346.00,280.08 L347.00,279.40 L348.00,278.71 L349.00,278.03 L350.00,277.36 L351.00,276.71 L352.00,276.08 L353.00,275.48 L354.00,274.93 L355.00,274.41 L356.00,273.92 L357.00,273.46 L358.00,273.02 L359.00,272.58 L360.00,272.15 L361.00,271.71 L362.00,271.28 L363.00,270.85 L364.00,270.42 L365.00,269.99 L366.00,269.56 L367.00,269.14 L368.00,268.72 L369.00,268.31 L370.00,267.90 L371.00,267.49 L372.00,267.08 L373.00,266.67 L374.00,266.26 L375.00,265.84 L376.00,265.41 L377.00,264.97 L378.00,264.51 L379.00,264.04 L380.00,263.56 L381.00,263.07 L382.00,262.58 L383.00,262.10 L384.00,261.63 L385.00,261.17 L386.00,260.73 L387.00,260.31 L388.00,259.92 L389.00,259.54 L390.00,259.18 L391.00,258.82 L392.00,258.46 L393.00,258.10 L394.00,257.74 L395.00,257.37 L396.00,257.00 L397.00,256.61 L398.00,256.22 L399.00,255.82 L400.00,255.42 L401.00,255.01 L402.00,254.60 L403.00,254.18 L404.00,253.75 L405.00,253.30 L406.00,252.84 L407.00,252.36 L408.00,251.87 L409.00,251.38 L410.00,250.88 L411.00,250.40 L412.00,249.93 L413.00,249.48 L414.00,249.07 L415.00,248.71 L416.00,248.39 L417.00,248.11 L418.00,247.86 L419.00,247.65 L420.00,247.48 L421.00,247.33 L422.00,247.22 L423.00,247.13 L424.00,247.05 L425.00,246.98 L426.00,246.91 L427.00,246.85 L428.00,246.80 L429.00,246.74 L430.00,246.68 L431.00,246.63 L432.00,246.58 L433.00,246.52 L434.00,246.47 L435.00,246.41 L436.00,246.36 L437.00,246.30 L438.00,246.25 L439.00,246.20 L440.00,246.14 L441.00,246.09 L442.00,246.03 L443.00,245.98 L444.00,245.92 L445.00,245.87 L446.00,245.81 L447.00,245.74 L448.00,245.66 L449.00,245.57 L450.00,245.45 L451.00,245.31 L452.00,245.15 L453.00,244.97 L454.00,244.77 L455.00,244.57 L456.00,244.37 L457.00,244.17 L458.00,243.96 L459.00,243.76 L460.00,243.55 L461.00,243.35 L462.00,243.14 L463.00,242.94 L464.00,242.73 L465.00,242.53 L466.00,242.32 L467.00,242.12 L468.00,241.91 L469.00,241.69 L470.00,241.47 L471.00,241.23 L472.00,240.98 L473.00,240.72 L474.00,240.45 L475.00,240.17 L476.00,239.89 L477.00,239.61 L478.00,239.32 L479.00,239.04 L480.00,238.75 L481.00,238.46 L482.00,238.18 L483.00,237.89 L484.00,237.61 L485.00,237.32 L486.00,237.04 L487.00,236.75 L488.00,236.46 L489.00,236.18 L490.00,235.89 L491.00,235.61 L492.00,235.32 L493.00,235.03 L494.00,234.73 L495.00,234.43 L496.00,234.10 L497.00,233.75 L498.00,233.37 L499.00,232.96 L500.00,232.53 L501.00,232.08 L502.00,231.62 L503.00,231.15 L504.00,230.68 L505.00,230.21 L506.00,229.73 L507.00,229.26 L508.00,228.79 L509.00,228.32 L510.00,227.85 L511.00,227.38 L512.00,226.93 L513.00,226.49 L514.00,226.08 L515.00,225.69 L516.00,225.33 L517.00,224.99 L518.00,224.68 L519.00,224.38 L520.00,224.08 L521.00,223.79 L522.00,223.50 L523.00,223.21 L524.00,222.92 L525.00,222.63 L526.00,222.35 L527.00,222.08 L528.00,221.82 L529.00,221.58 L530.00,221.37 L531.00,221.18 L532.00,221.02 L533.00,220.88 L534.00,220.75 L535.00,220.62 L536.00,220.50 L537.00,220.38 L538.00,220.25 L539.00,220.11 L540.00,219.96 L541.00,219.79 L542.00,219.58 L543.00,219.33 L544.00,219.06 L545.00,218.75 L546.00,218.42 L547.00,218.08 L548.00,217.73 L549.00,217.37 L550.00,217.00 L551.00,216.61 L552.00,216.20 L553.00,215.77 L554.00,215.32 L555.00,214.84 L556.00,214.36 L557.00,213.86 L558.00,213.36 L559.00,212.86 L560.00,212.36 L561.00,211.86 L562.00,211.36 L563.00,210.86 L564.00,210.36 L565.00,209.86 L566.00,209.35 L567.00,208.85 L568.00,208.35 L569.00,207.85 L570.00,207.36 L571.00,206.86 L572.00,206.36 L573.00,205.86 L574.00,205.37 L575.00,204.87 L576.00,204.37 L577.00,203.87 L578.00,203.38 L579.00,202.88 L580.00,202.38 L581.00,201.89 L582.00,201.40 L583.00,200.92 L584.00,200.45 L585.00,200.01 L586.00,199.59 L587.00,199.20 L588.00,198.85 L589.00,198.51 L590.00,198.19 L591.00,197.88 L592.00,197.58 L593.00,197.27 L594.00,196.95 L595.00,196.63 L596.00,196.28 L597.00,195.89 L598.00,195.45 L599.00,194.94 L600.00,194.38 L601.00,193.77 L602.00,193.11 L603.00,192.44 L604.00,191.75 L605.00,191.06 L606.00,190.39 L607.00,189.74 L608.00,189.12 L609.00,188.54 L610.00,188.02 L611.00,187.54 L612.00,187.09 L613.00,186.67 L614.00,186.26 L615.00,185.85 L616.00,185.45 L617.00,185.05 L618.00,184.65 L619.00,184.26 L620.00,183.86 L621.00,183.48 L622.00,183.09 L623.00,182.72 L624.00,182.34 L625.00,181.97 L626.00,181.61 L627.00,181.24 L628.00,180.88 L629.00,180.51 L630.00,180.14 L631.00,179.78 L632.00,179.41 L633.00,179.05 L634.00,178.68 L635.00,178.32 L636.00,177.96 L637.00,177.60 L638.00,177.25 L639.00,176.91 L640.00,176.58 L641.00,176.27 L642.00,175.97 L643.00,175.68 L644.00,175.41 L645.00,175.14 L646.00,174.87 L647.00,174.60 L648.00,174.33 L649.00,174.07 L650.00,173.80 L651.00,173.53 L652.00,173.27 L653.00,173.00 L654.00,172.73 L655.00,172.47 L656.00,172.20 L657.00,171.93 L658.00,171.67 L659.00,171.40" stroke="#ec268c" stroke-width="1.6" fill="none"/>
<path d="M3.00,319.80 L4.00,320.91 L5.00,322.03 L6.00,323.15 L7.00,324.28 L8.00,325.43 L9.00,326.61 L10.00,327.81 L11.00,329.04 L12.00,330.30 L13.00,331.57 L14.00,332.86 L15.00,334.16 L16.00,335.47 L17.00,336.78 L18.00,338.10 L19.00,339.42 L20.00,340.74 L21.00,342.06 L22.00,343.37 L23.00,344.65 L24.00,345.91 L25.00,347.14 L26.00,348.34 L27.00,349.52 L28.00,350.67 L29.00,351.81 L30.00,352.92 L31.00,354.03 L32.00,355.12 L33.00,356.19 L34.00,357.25 L35.00,358.30 L36.00,359.33 L37.00,360.35 L38.00,361.36 L39.00,362.36 L40.00,363.35 L41.00,364.33 L42.00,365.30 L43.00,366.24 L44.00,367.14 L45.00,368.00 L46.00,368.79 L47.00,369.53 L48.00,370.22 L49.00,370.87 L50.00,371.51 L51.00,372.12 L52.00,372.73 L53.00,373.33 L54.00,373.92 L55.00,374.50 L56.00,375.07 L57.00,375.63 L58.00,376.18 L59.00,376.73 L60.00,377.27 L61.00,377.81 L62.00,378.33 L63.00,378.85 L64.00,379.36 L65.00,379.84 L66.00,380.32 L67.00,380.78 L68.00,381.24 L69.00,381.69 L70.00,382.14 L71.00,382.59 L72.00,383.03 L73.00,383.48 L74.00,383.94 L75.00,384.39 L76.00,384.85 L77.00,385.30 L78.00,385.75 L79.00,386.19 L80.00,386.62 L81.00,387.01 L82.00,387.36 L83.00,387.65 L84.00,387.88 L85.00,388.05 L86.00,388.18 L87.00,388.29 L88.00,388.38 L89.00,388.45 L90.00,388.53 L91.00,388.61 L92.00,388.68 L93.00,388.76 L94.00,388.83 L95.00,388.91 L96.00,388.98 L97.00,389.06 L98.00,389.13 L99.00,389.22 L100.00,389.30 L101.00,389.39 L102.00,389.49 L103.00,389.60 L104.00,389.72 L105.00,389.84 L106.00,389.96 L107.00,390.09 L108.00,390.22 L109.00,390.34 L110.00,390.47 L111.00,390.59 L112.00,390.70 L113.00,390.79 L114.00,390.85 L115.00,390.87 L116.00,390.83 L117.00,390.73 L118.00,390.59 L119.00,390.41 L120.00,390.20 L121.00,389.98 L122.00,389.76 L123.00,389.53 L124.00,389.30 L125.00,389.08 L126.00,388.85 L127.00,388.63 L128.00,388.42 L129.00,388.21 L130.00,388.02 L131.00,387.84 L132.00,387.67 L133.00,387.51 L134.00,387.35 L135.00,387.20 L136.00,387.04 L137.00,386.88 L138.00,386.71 L139.00,386.52 L140.00,386.29 L141.00,386.02 L142.00,385.71 L143.00,385.35 L144.00,384.95 L145.00,384.52 L146.00,384.08 L147.00,383.63 L148.00,383.18 L149.00,382.73 L150.00,382.27 L151.00,381.81 L152.00,381.34 L153.00,380.86 L154.00,380.37 L155.00,379.84 L156.00,379.30 L157.00,378.73 L158.00,378.14 L159.00,377.54 L160.00,376.93 L161.00,376.32 L162.00,375.71 L163.00,375.10 L164.00,374.48 L165.00,373.87 L166.00,373.25 L167.00,372.61 L168.00,371.96 L169.00,371.27 L170.00,370.53 L171.00,369.73 L172.00,368.89 L173.00,367.99 L174.00,367.06 L175.00,366.10 L176.00,365.13 L177.00,364.14 L178.00,363.13 L179.00,362.10 L180.00,361.03 L181.00,359.92 L182.00,358.78 L183.00,357.62 L184.00,356.44 L185.00,355.25 L186.00,354.05 L187.00,352.85 L188.00,351.64 L189.00,350.44 L190.00,349.22 L191.00,347.99 L192.00,346.74 L193.00,345.46 L194.00,344.17 L195.00,342.85 L196.00,341.52 L197.00,340.18 L198.00,338.83 L199.00,337.49 L200.00,336.15 L201.00,334.83 L202.00,333.53 L203.00,332.28 L204.00,331.11 L205.00,330.03 L206.00,329.06 L207.00,328.18 L208.00,327.37 L209.00,326.62 L210.00,325.89 L211.00,325.18 L212.00,324.48 L213.00,323.78 L214.00,323.09 L215.00,322.42 L216.00,321.78 L217.00,321.17 L218.00,320.61 L219.00,320.09 L220.00,319.60 L221.00,319.14 L222.00,318.69 L223.00,318.24 L224.00,317.77 L225.00,317.27 L226.00,316.72 L227.00,316.12 L228.00,315.47 L229.00,314.78 L230.00,314.06 L231.00,313.33 L232.00,312.57 L233.00,311.81 L234.00,311.03 L235.00,310.23 L236.00,309.39 L237.00,308.52 L238.00,307.61 L239.00,306.67 L240.00,305.71 L241.00,304.73 L242.00,303.73 L243.00,302.72 L244.00,301.70 L245.00,300.66 L246.00,299.62 L247.00,298.57 L248.00,297.52 L249.00,296.47 L250.00,295.41 L251.00,294.36 L252.00,293.30 L253.00,292.24 L254.00,291.17 L255.00,290.10 L256.00,289.02 L257.00,287.94 L258.00,286.86 L259.00,285.79 L260.00,284.73 L261.00,283.69 L262.00,282.69 L263.00,281.75 L264.00,280.86 L265.00,280.03 L266.00,279.25 L267.00,278.50 L268.00,277.78 L269.00,277.06 L270.00,276.33 L271.00,275.59 L272.00,274.82 L273.00,274.01 L274.00,273.17 L275.00,272.30 L276.00,271.41 L277.00,270.50 L278.00,269.58 L279.00,268.66 L280.00,267.73 L281.00,266.80 L282.00,265.87 L283.00,264.94 L284.00,264.00 L285.00,263.06 L286.00,262.11 L287.00,261.16 L288.00,260.20 L289.00,259.24 L290.00,258.28 L291.00,257.33 L292.00,256.39 L293.00,255.48 L294.00,254.63 L295.00,253.88 L296.00,253.23 L297.00,252.72 L298.00,252.33 L299.00,252.05 L300.00,251.83 L301.00,251.66 L302.00,251.51 L303.00,251.38 L304.00,251.26 L305.00,251.15 L306.00,251.06 L307.00,250.98 L308.00,250.92 L309.00,250.86 L310.00,250.82 L311.00,250.77 L312.00,250.73 L313.00,250.68 L314.00,250.64 L315.00,250.60 L316.00,250.56 L317.00,250.51 L318.00,250.47 L319.00,250.43 L320.00,250.38 L321.00,250.34 L322.00,250.30 L323.00,250.26 L324.00,250.21 L325.00,250.16 L326.00,250.11 L327.00,250.04 L328.00,249.95 L329.00,249.83 L330.00,249.69 L331.00,249.53 L332.00,249.34 L333.00,249.14 L334.00,248.93 L335.00,248.71 L336.00,248.48 L337.00,248.22 L338.00,247.92 L339.00,247.57 L340.00,247.15 L341.00,246.68 L342.00,246.16 L343.00,245.60 L344.00,245.02 L345.00,244.43 L346.00,243.83 L347.00,243.24 L348.00,242.65 L349.00,242.07 L350.00,241.49 L351.00,240.93 L352.00,240.38 L353.00,239.85 L354.00,239.35 L355.00,238.90 L356.00,238.52 L357.00,238.22 L358.00,237.99 L359.00,237.84 L360.00,237.74 L361.00,237.69 L362.00,237.69 L363.00,237.72 L364.00,237.77 L365.00,237.84 L366.00,237.91 L367.00,237.99 L368.00,238.07 L369.00,238.15 L370.00,238.24 L371.00,238.34 L372.00,238.45 L373.00,238.57 L374.00,238.70 L375.00,238.83 L376.00,238.97 L377.00,239.12 L378.00,239.26 L379.00,239.39 L380.00,239.50 L381.00,239.59 L382.00,239.65 L383.00,239.68 L384.00,239.69 L385.00,239.68 L386.00,239.67 L387.00,239.64 L388.00,239.62 L389.00,239.59 L390.00,239.56 L391.00,239.54 L392.00,239.52 L393.00,239.52 L394.00,239.53 L395.00,239.58 L396.00,239.66 L397.00,239.77 L398.00,239.91 L399.00,240.07 L400.00,240.25 L401.00,240.44 L402.00,240.64 L403.00,240.84 L404.00,241.05 L405.00,241.27 L406.00,241.50 L407.00,241.74 L408.00,241.98 L409.00,242.23 L410.00,242.49 L411.00,242.74 L412.00,242.99 L413.00,243.23 L414.00,243.46 L415.00,243.68 L416.00,243.87 L417.00,244.03 L418.00,244.16 L419.00,244.25 L420.00,244.30 L421.00,244.31 L422.00,244.29 L423.00,244.23 L424.00,244.15 L425.00,244.05 L426.00,243.91 L427.00,243.74 L428.00,243.54 L429.00,243.32 L430.00,243.09 L431.00,242.85 L432.00,242.60 L433.00,242.35 L434.00,242.10 L435.00,241.85 L436.00,241.61 L437.00,241.37 L438.00,241.15 L439.00,240.94 L440.00,240.76 L441.00,240.61 L442.00,240.48 L443.00,240.38 L444.00,240.28 L445.00,240.19 L446.00,240.11 L447.00,240.02 L448.00,239.94 L449.00,239.86 L450.00,239.78 L451.00,239.70 L452.00,239.61 L453.00,239.53 L454.00,239.45 L455.00,239.37 L456.00,239.29 L457.00,239.21 L458.00,239.13 L459.00,239.07 L460.00,239.03 L461.00,239.03 L462.00,239.08 L463.00,239.18 L464.00,239.33 L465.00,239.54 L466.00,239.77 L467.00,240.01 L468.00,240.22 L469.00,240.38 L470.00,240.44 L471.00,240.37 L472.00,240.15 L473.00,239.80 L474.00,239.33 L475.00,238.78 L476.00,238.18 L477.00,237.57 L478.00,236.95 L479.00,236.34 L480.00,235.75 L481.00,235.18 L482.00,234.65 L483.00,234.14 L484.00,233.66 L485.00,233.19 L486.00,232.73 L487.00,232.27 L488.00,231.82 L489.00,231.36 L490.00,230.91 L491.00,230.45 L492.00,230.00 L493.00,229.53 L494.00,229.06 L495.00,228.56 L496.00,228.04 L497.00,227.46 L498.00,226.84 L499.00,226.16 L500.00,225.44 L501.00,224.68 L502.00,223.90 L503.00,223.11 L504.00,222.32 L505.00,221.52 L506.00,220.72 L507.00,219.93 L508.00,219.13 L509.00,218.33 L510.00,217.54 L511.00,216.74 L512.00,215.94 L513.00,215.13 L514.00,214.32 L515.00,213.51 L516.00,212.69 L517.00,211.87 L518.00,211.04 L519.00,210.21 L520.00,209.37 L521.00,208.54 L522.00,207.71 L523.00,206.88 L524.00,206.04 L525.00,205.22 L526.00,204.40 L527.00,203.60 L528.00,202.83 L529.00,202.10 L530.00,201.42 L531.00,200.79 L532.00,200.21 L533.00,199.67 L534.00,199.15 L535.00,198.64 L536.00,198.14 L537.00,197.64 L538.00,197.14 L539.00,196.64 L540.00,196.13 L541.00,195.61 L542.00,195.08 L543.00,194.52 L544.00,193.94 L545.00,193.33 L546.00,192.70 L547.00,192.05 L548.00,191.39 L549.00,190.73 L550.00,190.07 L551.00,189.40 L552.00,188.73 L553.00,188.06 L554.00,187.39 L555.00,186.71 L556.00,186.02 L557.00,185.30 L558.00,184.55 L559.00,183.76 L560.00,182.94 L561.00,182.09 L562.00,181.21 L563.00,180.32 L564.00,179.43 L565.00,178.52 L566.00,177.62 L567.00,176.70 L568.00,175.78 L569.00,174.85 L570.00,173.88 L571.00,172.89 L572.00,171.88 L573.00,170.84 L574.00,169.81 L575.00,168.81 L576.00,167.85 L577.00,166.94 L578.00,166.08 L579.00,165.25 L580.00,164.45 L581.00,163.65 L582.00,162.83 L583.00,161.97 L584.00,161.07 L585.00,160.12 L586.00,159.13 L587.00,158.13 L588.00,157.16 L589.00,156.23 L590.00,155.39 L591.00,154.64 L592.00,153.97 L593.00,153.38 L594.00,152.83 L595.00,152.31 L596.00,151.80 L597.00,151.30 L598.00,150.80 L599.00,150.30 L600.00,149.80 L601.00,149.30 L602.00,148.80 L603.00,148.30 L604.00,147.80 L605.00,147.30 L606.00,146.80 L607.00,146.30 L608.00,145.80 L609.00,145.29 L610.00,144.79 L611.00,144.28 L612.00,143.77 L613.00,143.26 L614.00,142.76 L615.00,142.28 L616.00,141.85 L617.00,141.47 L618.00,141.18 L619.00,140.98 L620.00,140.86 L621.00,140.81 L622.00,140.80 L623.00,140.83 L624.00,140.89 L625.00,140.96 L626.00,141.05 L627.00,141.15 L628.00,141.27 L629.00,141.39 L630.00,141.52 L631.00,141.66 L632.00,141.79 L633.00,141.93 L634.00,142.07 L635.00,142.21 L636.00,142.36 L637.00,142.52 L638.00,142.68 L639.00,142.84 L640.00,143.01 L641.00,143.17 L642.00,143.34 L643.00,143.51 L644.00,143.67 L645.00,143.82 L646.00,143.96 L647.00,144.08 L648.00,144.17 L649.00,144.23 L650.00,144.26 L651.00,144.26 L652.00,144.25 L653.00,144.22 L654.00,144.19 L655.00,144.15 L656.00,144.11 L657.00,144.07 L658.00,144.04 L659.00,144.00" stroke="#3b98f5" stroke-width="1.6" fill="none"/>
<g stroke="#8f929a" stroke-width="1" stroke-dasharray="3.1,3.08" stroke-dashoffset="0.45" fill="none">
<path d="M3,472.4 H981"/>
<path d="M3,515.4 H981"/>
</g>
<path d="M1.90,524.91 L2.15,524.34 L2.40,523.82 L2.65,523.36 L2.90,522.98 L3.15,522.68 L3.40,522.46 L3.65,522.30 L3.90,522.19 L4.15,522.15 L4.40,522.17 L4.65,522.25 L4.90,522.41 L5.15,522.64 L5.40,522.92 L5.65,523.21 L5.90,523.48 L6.15,523.69 L6.40,523.80 L6.65,523.77 L6.90,523.59 L7.15,523.24 L7.40,522.72 L7.65,522.02 L7.90,521.18 L8.15,520.21 L8.40,519.16 L8.65,518.08 L8.90,516.98 L9.15,515.88 L9.40,514.81 L9.65,513.75 L9.90,512.73 L10.15,511.74 L10.40,510.81 L10.65,509.97 L10.90,509.25 L11.15,508.73 L11.40,508.44 L11.65,508.44 L11.90,508.72 L12.15,509.24 L12.40,509.94 L12.65,510.76 L12.90,511.67 L13.15,512.64 L13.40,513.66 L13.65,514.70 L13.90,515.75 L14.15,516.78 L14.40,517.74 L14.65,518.59 L14.90,519.27 L15.15,519.72 L15.40,519.91 L15.65,519.80 L15.90,519.42 L16.15,518.85 L16.40,518.14 L16.65,517.34 L16.90,516.50 L17.15,515.63 L17.40,514.75 L17.65,513.84 L17.90,512.90 L18.15,511.93 L18.40,510.91 L18.65,509.86 L18.90,508.80 L19.15,507.77 L19.40,506.78 L19.65,505.88 L19.90,505.06 L20.15,504.32 L20.40,503.65 L20.65,503.06 L20.90,502.54 L21.15,502.08 L21.40,501.67 L21.65,501.31 L21.90,500.98 L22.15,500.68 L22.40,500.42 L22.65,500.24 L22.90,500.17 L23.15,500.23 L23.40,500.43 L23.65,500.75 L23.90,501.14 L24.15,501.54 L24.40,501.92 L24.65,502.21 L24.90,502.36 L25.15,502.31 L25.40,502.00 L25.65,501.37 L25.90,500.31 L26.15,498.81 L26.40,496.91 L26.65,494.74 L26.90,492.39 L27.15,489.93 L27.40,487.41 L27.65,484.86 L27.90,482.29 L28.15,479.73 L28.40,477.19 L28.65,474.71 L28.90,472.31 L29.15,470.07 L29.40,468.08 L29.65,466.47 L29.90,465.42 L30.15,465.02 L30.40,465.21 L30.65,465.88 L30.90,466.90 L31.15,468.20 L31.40,469.72 L31.65,471.39 L31.90,473.19 L32.15,475.08 L32.40,477.03 L32.65,479.05 L32.90,481.21 L33.15,483.63 L33.40,486.41 L33.65,489.59 L33.90,493.07 L34.15,496.67 L34.40,500.27 L34.65,503.70 L34.90,506.84 L35.15,509.57 L35.40,511.78 L35.65,513.42 L35.90,514.43 L36.15,514.78 L36.40,514.55 L36.65,513.83 L36.90,512.76 L37.15,511.43 L37.40,509.91 L37.65,508.23 L37.90,506.44 L38.15,504.60 L38.40,502.71 L38.65,500.81 L38.90,498.89 L39.15,496.98 L39.40,495.08 L39.65,493.20 L39.90,491.34 L40.15,489.51 L40.40,487.75 L40.65,486.08 L40.90,484.53 L41.15,483.14 L41.40,481.93 L41.65,480.95 L41.90,480.18 L42.15,479.62 L42.40,479.20 L42.65,478.87 L42.90,478.56 L43.15,478.26 L43.40,477.95 L43.65,477.63 L43.90,477.31 L44.15,477.01 L44.40,476.74 L44.65,476.53 L44.90,476.37 L45.15,476.26 L45.40,476.19 L45.65,476.13 L45.90,476.07 L46.15,475.99 L46.40,475.89 L46.65,475.76 L46.90,475.62 L47.15,475.46 L47.40,475.29 L47.65,475.09 L47.90,474.88 L48.15,474.64 L48.40,474.39 L48.65,474.15 L48.90,473.93 L49.15,473.75 L49.40,473.63 L49.65,473.55 L49.90,473.50 L50.15,473.46 L50.40,473.40 L50.65,473.30 L50.90,473.16 L51.15,472.96 L51.40,472.71 L51.65,472.41 L51.90,472.06 L52.15,471.70 L52.40,471.42 L52.65,471.30 L52.90,471.44 L53.15,471.96 L53.40,472.91 L53.65,474.38 L53.90,476.40 L54.15,479.00 L54.40,482.08 L54.65,485.51 L54.90,489.18 L55.15,492.97 L55.40,496.80 L55.65,500.60 L55.90,504.29 L56.15,507.79 L56.40,511.03 L56.65,513.94 L56.90,516.43 L57.15,518.44 L57.40,519.86 L57.65,520.62 L57.90,520.67 L58.15,520.06 L58.40,518.92 L58.65,517.41 L58.90,515.63 L59.15,513.67 L59.40,511.60 L59.65,509.45 L59.90,507.26 L60.15,505.03 L60.40,502.78 L60.65,500.51 L60.90,498.25 L61.15,496.07 L61.40,494.02 L61.65,492.18 L61.90,490.66 L62.15,489.52 L62.40,488.88 L62.65,488.79 L62.90,489.24 L63.15,490.16 L63.40,491.44 L63.65,492.97 L63.90,494.67 L64.15,496.47 L64.40,498.34 L64.65,500.26 L64.90,502.19 L65.15,504.11 L65.40,505.98 L65.65,507.76 L65.90,509.42 L66.15,510.91 L66.40,512.18 L66.65,513.17 L66.90,513.79 L67.15,513.96 L67.40,513.57 L67.65,512.57 L67.90,511.03 L68.15,509.07 L68.40,506.79 L68.65,504.27 L68.90,501.58 L69.15,498.73 L69.40,495.77 L69.65,492.72 L69.90,489.60 L70.15,486.49 L70.40,483.44 L70.65,480.51 L70.90,477.78 L71.15,475.29 L71.40,473.12 L71.65,471.36 L71.90,470.09 L72.15,469.38 L72.40,469.26 L72.65,469.66 L72.90,470.50 L73.15,471.64 L73.40,473.01 L73.65,474.57 L73.90,476.31 L74.15,478.20 L74.40,480.24 L74.65,482.38 L74.90,484.60 L75.15,486.85 L75.40,489.08 L75.65,491.24 L75.90,493.24 L76.15,495.00 L76.40,496.45 L76.65,497.53 L76.90,498.20 L77.15,498.50 L77.40,498.50 L77.65,498.26 L77.90,497.87 L78.15,497.38 L78.40,496.84 L78.65,496.27 L78.90,495.66 L79.15,495.03 L79.40,494.39 L79.65,493.75 L79.90,493.11 L80.15,492.49 L80.40,491.87 L80.65,491.27 L80.90,490.68 L81.15,490.12 L81.40,489.58 L81.65,489.06 L81.90,488.55 L82.15,488.04 L82.40,487.53 L82.65,487.00 L82.90,486.44 L83.15,485.83 L83.40,485.16 L83.65,484.41 L83.90,483.58 L84.15,482.70 L84.40,481.78 L84.65,480.83 L84.90,479.88 L85.15,478.96 L85.40,478.09 L85.65,477.26 L85.90,476.49 L86.15,475.77 L86.40,475.07 L86.65,474.39 L86.90,473.71 L87.15,473.00 L87.40,472.27 L87.65,471.49 L87.90,470.67 L88.15,469.82 L88.40,468.94 L88.65,468.05 L88.90,467.18 L89.15,466.36 L89.40,465.61 L89.65,464.95 L89.90,464.42 L90.15,464.04 L90.40,463.80 L90.65,463.69 L90.90,463.69 L91.15,463.74 L91.40,463.83 L91.65,463.90 L91.90,463.95 L92.15,463.97 L92.40,463.94 L92.65,463.90 L92.90,463.85 L93.15,463.82 L93.40,463.83 L93.65,463.90 L93.90,464.04 L94.15,464.23 L94.40,464.47 L94.65,464.75 L94.90,465.07 L95.15,465.41 L95.40,465.75 L95.65,466.10 L95.90,466.44 L96.15,466.75 L96.40,467.03 L96.65,467.26 L96.90,467.45 L97.15,467.60 L97.40,467.73 L97.65,467.86 L97.90,467.99 L98.15,468.17 L98.40,468.42 L98.65,468.77 L98.90,469.21 L99.15,469.75 L99.40,470.41 L99.65,471.17 L99.90,472.04 L100.15,472.96 L100.40,473.94 L100.65,474.98 L100.90,476.12 L101.15,477.38 L101.40,478.73 L101.65,480.13 L101.90,481.55 L102.15,482.97 L102.40,484.41 L102.65,485.88 L102.90,487.38 L103.15,488.91 L103.40,490.48 L103.65,492.12 L103.90,493.83 L104.15,495.62 L104.40,497.48 L104.65,499.39 L104.90,501.34 L105.15,503.30 L105.40,505.25 L105.65,507.16 L105.90,508.99 L106.15,510.71 L106.40,512.29 L106.65,513.73 L106.90,515.02 L107.15,516.17 L107.40,517.18 L107.65,518.06 L107.90,518.84 L108.15,519.55 L108.40,520.22 L108.65,520.86 L108.90,521.46 L109.15,522.01 L109.40,522.50 L109.65,522.92 L109.90,523.26 L110.15,523.52 L110.40,523.71 L110.65,523.85 L110.90,523.95 L111.15,524.00 L111.40,524.02 L111.65,524.01 L111.90,523.99 L112.15,523.95 L112.40,523.90 L112.65,523.78 L112.90,523.51 L113.15,523.05 L113.40,522.40 L113.65,521.61 L113.90,520.68 L114.15,519.62 L114.40,518.47 L114.65,517.27 L114.90,516.03 L115.15,514.77 L115.40,513.49 L115.65,512.22 L115.90,510.93 L116.15,509.62 L116.40,508.30 L116.65,506.97 L116.90,505.65 L117.15,504.34 L117.40,503.05 L117.65,501.78 L117.90,500.54 L118.15,499.33 L118.40,498.14 L118.65,496.96 L118.90,495.79 L119.15,494.61 L119.40,493.44 L119.65,492.30 L119.90,491.18 L120.15,490.09 L120.40,489.09 L120.65,488.22 L120.90,487.64 L121.15,487.47 L121.40,487.78 L121.65,488.57 L121.90,489.85 L122.15,491.60 L122.40,493.75 L122.65,496.19 L122.90,498.79 L123.15,501.38 L123.40,503.75 L123.65,505.69 L123.90,506.98 L124.15,507.54 L124.40,507.37 L124.65,506.58 L124.90,505.35 L125.15,503.82 L125.40,502.10 L125.65,500.30 L125.90,498.48 L126.15,496.74 L126.40,495.15 L126.65,493.85 L126.90,492.95 L127.15,492.58 L127.40,492.77 L127.65,493.48 L127.90,494.58 L128.15,495.95 L128.40,497.49 L128.65,499.14 L128.90,500.88 L129.15,502.65 L129.40,504.46 L129.65,506.28 L129.90,508.08 L130.15,509.83 L130.40,511.50 L130.65,513.05 L130.90,514.43 L131.15,515.60 L131.40,516.59 L131.65,517.41 L131.90,518.14 L132.15,518.84 L132.40,519.55 L132.65,520.29 L132.90,521.06 L133.15,521.88 L133.40,522.72 L133.65,523.57 L133.90,524.40 L134.15,525.18 L134.40,525.91 L134.65,526.57 L134.90,527.15 L135.15,527.68 L135.40,528.15 L135.65,528.57 L135.90,528.93 L136.15,529.23 L136.40,529.49 L136.65,529.71 L136.90,529.88 L137.15,529.99 L137.40,530.02 L137.65,529.94 L137.90,529.74 L138.15,529.38 L138.40,528.83 L138.65,528.06 L138.90,526.99 L139.15,525.56 L139.40,523.73 L139.65,521.48 L139.90,518.87 L140.15,515.97 L140.40,512.87 L140.65,509.61 L140.90,506.25 L141.15,502.83 L141.40,499.39 L141.65,495.96 L141.90,492.57 L142.15,489.29 L142.40,486.14 L142.65,483.21 L142.90,480.60 L143.15,478.40 L143.40,476.66 L143.65,475.38 L143.90,474.51 L144.15,473.94 L144.40,473.58 L144.65,473.36 L144.90,473.23 L145.15,473.13 L145.40,473.02 L145.65,472.86 L145.90,472.64 L146.15,472.34 L146.40,471.96 L146.65,471.50 L146.90,471.00 L147.15,470.50 L147.40,470.00 L147.65,469.52 L147.90,469.02 L148.15,468.51 L148.40,467.96 L148.65,467.35 L148.90,466.68 L149.15,465.95 L149.40,465.16 L149.65,464.33 L149.90,463.49 L150.15,462.69 L150.40,461.97 L150.65,461.39 L150.90,460.97 L151.15,460.72 L151.40,460.64 L151.65,460.69 L151.90,460.84 L152.15,461.07 L152.40,461.34 L152.65,461.64 L152.90,461.97 L153.15,462.30 L153.40,462.65 L153.65,462.99 L153.90,463.34 L154.15,463.69 L154.40,464.01 L154.65,464.30 L154.90,464.52 L155.15,464.64 L155.40,464.68 L155.65,464.63 L155.90,464.51 L156.15,464.34 L156.40,464.12 L156.65,463.89 L156.90,463.68 L157.15,463.55 L157.40,463.55 L157.65,463.75 L157.90,464.20 L158.15,464.93 L158.40,465.89 L158.65,467.05 L158.90,468.33 L159.15,469.69 L159.40,471.09 L159.65,472.49 L159.90,473.87 L160.15,475.19 L160.40,476.47 L160.65,477.71 L160.90,478.91 L161.15,480.09 L161.40,481.24 L161.65,482.38 L161.90,483.52 L162.15,484.66 L162.40,485.85 L162.65,487.12 L162.90,488.50 L163.15,490.04 L163.40,491.74 L163.65,493.61 L163.90,495.63 L164.15,497.78 L164.40,500.04 L164.65,502.39 L164.90,504.81 L165.15,507.27 L165.40,509.75 L165.65,512.19 L165.90,514.57 L166.15,516.85 L166.40,519.01 L166.65,521.01 L166.90,522.83 L167.15,524.49 L167.40,525.96 L167.65,527.23 L167.90,528.22 L168.15,528.83 L168.40,528.97 L168.65,528.57 L168.90,527.66 L169.15,526.31 L169.40,524.60 L169.65,522.63 L169.90,520.45 L170.15,518.12 L170.40,515.70 L170.65,513.21 L170.90,510.66 L171.15,508.08 L171.40,505.46 L171.65,502.81 L171.90,500.12 L172.15,497.29 L172.40,494.14 L172.65,490.53 L172.90,486.48 L173.15,482.15 L173.40,477.85 L173.65,473.89 L173.90,470.51 L174.15,467.88 L174.40,465.95 L174.65,464.62 L174.90,463.71 L175.15,463.08 L175.40,462.62 L175.65,462.24 L175.90,461.92 L176.15,461.64 L176.40,461.40 L176.65,461.21 L176.90,461.05 L177.15,460.92 L177.40,460.81 L177.65,460.73 L177.90,460.65 L178.15,460.55 L178.40,460.41 L178.65,460.21 L178.90,459.97 L179.15,459.69 L179.40,459.39 L179.65,459.10 L179.90,458.86 L180.15,458.72 L180.40,458.70 L180.65,458.83 L180.90,459.11 L181.15,459.51 L181.40,459.99 L181.65,460.52 L181.90,461.07 L182.15,461.61 L182.40,462.13 L182.65,462.62 L182.90,463.09 L183.15,463.54 L183.40,463.98 L183.65,464.40 L183.90,464.77 L184.15,465.07 L184.40,465.27 L184.65,465.34 L184.90,465.28 L185.15,465.11 L185.40,464.85 L185.65,464.54 L185.90,464.22 L186.15,463.92 L186.40,463.67 L186.65,463.49 L186.90,463.40 L187.15,463.39 L187.40,463.46 L187.65,463.59 L187.90,463.76 L188.15,463.95 L188.40,464.15 L188.65,464.35 L188.90,464.54 L189.15,464.73 L189.40,464.91 L189.65,465.06 L189.90,465.18 L190.15,465.26 L190.40,465.31 L190.65,465.33 L190.90,465.32 L191.15,465.29 L191.40,465.28 L191.65,465.29 L191.90,465.34 L192.15,465.44 L192.40,465.61 L192.65,465.84 L192.90,466.13 L193.15,466.46 L193.40,466.84 L193.65,467.28 L193.90,467.77 L194.15,468.32 L194.40,468.92 L194.65,469.56 L194.90,470.22 L195.15,470.90 L195.40,471.60 L195.65,472.33 L195.90,473.10 L196.15,473.93 L196.40,474.81 L196.65,475.74 L196.90,476.69 L197.15,477.59 L197.40,478.36 L197.65,478.86 L197.90,478.95 L198.15,478.53 L198.40,477.60 L198.65,476.32 L198.90,474.98 L199.15,473.89 L199.40,473.25 L199.65,473.16 L199.90,473.55 L200.15,474.32 L200.40,475.37 L200.65,476.60 L200.90,477.95 L201.15,479.39 L201.40,480.90 L201.65,482.46 L201.90,484.08 L202.15,485.76 L202.40,487.49 L202.65,489.26 L202.90,491.05 L203.15,492.85 L203.40,494.66 L203.65,496.46 L203.90,498.27 L204.15,500.07 L204.40,501.87 L204.65,503.66 L204.90,505.43 L205.15,507.17 L205.40,508.88 L205.65,510.57 L205.90,512.22 L206.15,513.85 L206.40,515.46 L206.65,517.06 L206.90,518.65 L207.15,520.22 L207.40,521.76 L207.65,523.23 L207.90,524.50 L208.15,525.37 L208.40,525.57 L208.65,524.94 L208.90,523.72 L209.15,522.17 L209.40,520.40 L209.65,518.41 L209.90,516.28 L210.15,514.11 L210.40,511.96 L210.65,509.89 L210.90,507.91 L211.15,506.04 L211.40,504.29 L211.65,502.65 L211.90,501.12 L212.15,499.71 L212.40,498.47 L212.65,497.44 L212.90,496.64 L213.15,496.07 L213.40,495.72 L213.65,495.61 L213.90,495.77 L214.15,496.18 L214.40,496.78 L214.65,497.47 L214.90,498.23 L215.15,499.01 L215.40,499.81 L215.65,500.59 L215.90,501.37 L216.15,502.15 L216.40,502.92 L216.65,503.67 L216.90,504.40 L217.15,505.14 L217.40,505.90 L217.65,506.68 L217.90,507.50 L218.15,508.37 L218.40,509.28 L218.65,510.23 L218.90,511.23 L219.15,512.25 L219.40,513.29 L219.65,514.32 L219.90,515.32 L220.15,516.27 L220.40,517.18 L220.65,518.05 L220.90,518.86 L221.15,519.62 L221.40,520.32 L221.65,520.97 L221.90,521.61 L222.15,522.22 L222.40,522.78 L222.65,523.25 L222.90,523.67 L223.15,524.07 L223.40,524.38 L223.65,524.53 L223.90,524.57 L224.15,524.55 L224.40,524.46 L224.65,524.28 L224.90,524.04 L225.15,523.77 L225.40,523.46 L225.65,523.09 L225.90,522.68 L226.15,522.23 L226.40,521.73 L226.65,521.16 L226.90,520.54 L227.15,519.87 L227.40,519.17 L227.65,518.43 L227.90,517.69 L228.15,516.98 L228.40,516.30 L228.65,515.64 L228.90,515.01 L229.15,514.39 L229.40,513.77 L229.65,513.10 L229.90,512.37 L230.15,511.59 L230.40,510.74 L230.65,509.84 L230.90,508.90 L231.15,507.94 L231.40,506.95 L231.65,505.92 L231.90,504.87 L232.15,503.81 L232.40,502.72 L232.65,501.57 L232.90,500.39 L233.15,499.19 L233.40,498.00 L233.65,496.81 L233.90,495.65 L234.15,494.51 L234.40,493.42 L234.65,492.35 L234.90,491.29 L235.15,490.19 L235.40,489.01 L235.65,487.73 L235.90,486.35 L236.15,484.85 L236.40,483.27 L236.65,481.64 L236.90,480.00 L237.15,478.39 L237.40,476.84 L237.65,475.36 L237.90,473.95 L238.15,472.60 L238.40,471.29 L238.65,470.00 L238.90,468.72 L239.15,467.45 L239.40,466.20 L239.65,464.96 L239.90,463.76 L240.15,462.62 L240.40,461.55 L240.65,460.57 L240.90,459.73 L241.15,459.08 L241.40,458.62 L241.65,458.32 L241.90,458.15 L242.15,458.13 L242.40,458.24 L242.65,458.50 L242.90,458.92 L243.15,459.47 L243.40,460.15 L243.65,460.92 L243.90,461.73 L244.15,462.52 L244.40,463.22 L244.65,463.77 L244.90,464.15 L245.15,464.36 L245.40,464.47 L245.65,464.52 L245.90,464.57 L246.15,464.63 L246.40,464.69 L246.65,464.76 L246.90,464.85 L247.15,464.93 L247.40,465.02 L247.65,465.11 L247.90,465.20 L248.15,465.31 L248.40,465.44 L248.65,465.61 L248.90,465.84 L249.15,466.11 L249.40,466.42 L249.65,466.74 L249.90,467.08 L250.15,467.44 L250.40,467.85 L250.65,468.31 L250.90,468.83 L251.15,469.43 L251.40,470.10 L251.65,470.83 L251.90,471.62 L252.15,472.46 L252.40,473.33 L252.65,474.24 L252.90,475.18 L253.15,476.16 L253.40,477.21 L253.65,478.31 L253.90,479.49 L254.15,480.72 L254.40,482.02 L254.65,483.37 L254.90,484.75 L255.15,486.16 L255.40,487.58 L255.65,489.05 L255.90,490.57 L256.15,492.15 L256.40,493.79 L256.65,495.48 L256.90,497.22 L257.15,499.00 L257.40,500.80 L257.65,502.61 L257.90,504.40 L258.15,506.17 L258.40,507.89 L258.65,509.57 L258.90,511.20 L259.15,512.79 L259.40,514.32 L259.65,515.79 L259.90,517.19 L260.15,518.49 L260.40,519.68 L260.65,520.74 L260.90,521.62 L261.15,522.26 L261.40,522.58 L261.65,522.55 L261.90,522.15 L262.15,521.42 L262.40,520.38 L262.65,519.06 L262.90,517.47 L263.15,515.64 L263.40,513.65 L263.65,511.59 L263.90,509.51 L264.15,507.42 L264.40,505.34 L264.65,503.27 L264.90,501.22 L265.15,499.18 L265.40,497.19 L265.65,495.27 L265.90,493.50 L266.15,491.96 L266.40,490.75 L266.65,489.94 L266.90,489.56 L267.15,489.56 L267.40,489.88 L267.65,490.44 L267.90,491.16 L268.15,492.00 L268.40,492.92 L268.65,493.88 L268.90,494.84 L269.15,495.77 L269.40,496.64 L269.65,497.39 L269.90,497.96 L270.15,498.30 L270.40,498.35 L270.65,498.10 L270.90,497.59 L271.15,496.87 L271.40,496.00 L271.65,495.04 L271.90,494.03 L272.15,492.99 L272.40,491.94 L272.65,490.88 L272.90,489.83 L273.15,488.79 L273.40,487.74 L273.65,486.69 L273.90,485.62 L274.15,484.54 L274.40,483.44 L274.65,482.33 L274.90,481.21 L275.15,480.08 L275.40,478.92 L275.65,477.73 L275.90,476.47 L276.15,475.15 L276.40,473.79 L276.65,472.40 L276.90,471.01 L277.15,469.65 L277.40,468.35 L277.65,467.15 L277.90,466.07 L278.15,465.12 L278.40,464.34 L278.65,463.73 L278.90,463.31 L279.15,463.08 L279.40,463.04 L279.65,463.17 L279.90,463.43 L280.15,463.79 L280.40,464.21 L280.65,464.69 L280.90,465.19 L281.15,465.68 L281.40,466.15 L281.65,466.57 L281.90,466.93 L282.15,467.24 L282.40,467.50 L282.65,467.76 L282.90,468.05 L283.15,468.40 L283.40,468.86 L283.65,469.40 L283.90,470.00 L284.15,470.61 L284.40,471.15 L284.65,471.60 L284.90,471.92 L285.15,472.13 L285.40,472.24 L285.65,472.28 L285.90,472.27 L286.15,472.24 L286.40,472.23 L286.65,472.25 L286.90,472.34 L287.15,472.52 L287.40,472.83 L287.65,473.28 L287.90,473.90 L288.15,474.65 L288.40,475.50 L288.65,476.43 L288.90,477.41 L289.15,478.41 L289.40,479.41 L289.65,480.36 L289.90,481.19 L290.15,481.83 L290.40,482.17 L290.65,482.12 L290.90,481.66 L291.15,480.82 L291.40,479.69 L291.65,478.39 L291.90,477.00 L292.15,475.62 L292.40,474.27 L292.65,472.99 L292.90,471.78 L293.15,470.65 L293.40,469.64 L293.65,468.81 L293.90,468.24 L294.15,467.98 L294.40,468.03 L294.65,468.34 L294.90,468.91 L295.15,469.76 L295.40,470.89 L295.65,472.31 L295.90,474.03 L296.15,476.06 L296.40,478.42 L296.65,481.11 L296.90,484.06 L297.15,487.18 L297.40,490.40 L297.65,493.65 L297.90,496.89 L298.15,500.09 L298.40,503.23 L298.65,506.31 L298.90,509.31 L299.15,512.22 L299.40,514.99 L299.65,517.58 L299.90,519.86 L300.15,521.70 L300.40,522.98 L300.65,523.65 L300.90,523.75 L301.15,523.37 L301.40,522.61 L301.65,521.58 L301.90,520.37 L302.15,519.06 L302.40,517.75 L302.65,516.55 L302.90,515.55 L303.15,514.85 L303.40,514.52 L303.65,514.61 L303.90,515.04 L304.15,515.74 L304.40,516.59 L304.65,517.52 L304.90,518.48 L305.15,519.43 L305.40,520.35 L305.65,521.22 L305.90,522.02 L306.15,522.74 L306.40,523.35 L306.65,523.87 L306.90,524.32 L307.15,524.74 L307.40,525.16 L307.65,525.59 L307.90,526.02 L308.15,526.45 L308.40,526.85 L308.65,527.21 L308.90,527.49 L309.15,527.68 L309.40,527.74 L309.65,527.66 L309.90,527.39 L310.15,526.90 L310.40,526.16 L310.65,525.14 L310.90,523.85 L311.15,522.32 L311.40,520.62 L311.65,518.81 L311.90,516.94 L312.15,515.05 L312.40,513.17 L312.65,511.31 L312.90,509.49 L313.15,507.72 L313.40,506.01 L313.65,504.37 L313.90,502.78 L314.15,501.25 L314.40,499.77 L314.65,498.32 L314.90,496.90 L315.15,495.51 L315.40,494.14 L315.65,492.77 L315.90,491.38 L316.15,489.97 L316.40,488.55 L316.65,487.14 L316.90,485.73 L317.15,484.33 L317.40,482.95 L317.65,481.56 L317.90,480.16 L318.15,478.74 L318.40,477.28 L318.65,475.81 L318.90,474.32 L319.15,472.82 L319.40,471.34 L319.65,469.87 L319.90,468.44 L320.15,467.08 L320.40,465.81 L320.65,464.69 L320.90,463.77 L321.15,463.07 L321.40,462.61 L321.65,462.40 L321.90,462.40 L322.15,462.58 L322.40,462.93 L322.65,463.43 L322.90,464.06 L323.15,464.80 L323.40,465.62 L323.65,466.49 L323.90,467.36 L324.15,468.18 L324.40,468.92 L324.65,469.51 L324.90,469.93 L325.15,470.17 L325.40,470.25 L325.65,470.23 L325.90,470.15 L326.15,470.05 L326.40,469.95 L326.65,469.90 L326.90,469.89 L327.15,469.96 L327.40,470.11 L327.65,470.36 L327.90,470.70 L328.15,471.14 L328.40,471.65 L328.65,472.22 L328.90,472.83 L329.15,473.47 L329.40,474.13 L329.65,474.80 L329.90,475.46 L330.15,476.08 L330.40,476.66 L330.65,477.16 L330.90,477.57 L331.15,477.89 L331.40,478.13 L331.65,478.32 L331.90,478.50 L332.15,478.71 L332.40,479.02 L332.65,479.50 L332.90,480.24 L333.15,481.34 L333.40,482.88 L333.65,484.86 L333.90,487.23 L334.15,489.89 L334.40,492.74 L334.65,495.68 L334.90,498.59 L335.15,501.38 L335.40,503.97 L335.65,506.28 L335.90,508.27 L336.15,509.88 L336.40,511.08 L336.65,511.81 L336.90,512.04 L337.15,511.78 L337.40,511.11 L337.65,510.15 L337.90,509.00 L338.15,507.74 L338.40,506.38 L338.65,504.93 L338.90,503.38 L339.15,501.75 L339.40,500.02 L339.65,498.19 L339.90,496.26 L340.15,494.23 L340.40,492.13 L340.65,489.99 L340.90,487.84 L341.15,485.71 L341.40,483.62 L341.65,481.59 L341.90,479.67 L342.15,477.87 L342.40,476.28 L342.65,474.99 L342.90,474.11 L343.15,473.70 L343.40,473.80 L343.65,474.37 L343.90,475.30 L344.15,476.41 L344.40,477.47 L344.65,478.27 L344.90,478.71 L345.15,478.77 L345.40,478.54 L345.65,478.13 L345.90,477.62 L346.15,477.08 L346.40,476.53 L346.65,475.98 L346.90,475.44 L347.15,474.89 L347.40,474.32 L347.65,473.73 L347.90,473.13 L348.15,472.51 L348.40,471.92 L348.65,471.37 L348.90,470.87 L349.15,470.40 L349.40,469.93 L349.65,469.45 L349.90,468.94 L350.15,468.45 L350.40,468.00 L350.65,467.66 L350.90,467.49 L351.15,467.54 L351.40,467.88 L351.65,468.59 L351.90,469.69 L352.15,471.21 L352.40,473.11 L352.65,475.32 L352.90,477.75 L353.15,480.29 L353.40,482.89 L353.65,485.52 L353.90,488.16 L354.15,490.81 L354.40,493.49 L354.65,496.19 L354.90,498.92 L355.15,501.67 L355.40,504.42 L355.65,507.17 L355.90,509.89 L356.15,512.56 L356.40,515.14 L356.65,517.57 L356.90,519.76 L357.15,521.62 L357.40,523.06 L357.65,524.04 L357.90,524.55 L358.15,524.63 L358.40,524.42 L358.65,524.04 L358.90,523.65 L359.15,523.36 L359.40,523.24 L359.65,523.31 L359.90,523.52 L360.15,523.84 L360.40,524.20 L360.65,524.59 L360.90,524.95 L361.15,525.28 L361.40,525.54 L361.65,525.74 L361.90,525.88 L362.15,525.97 L362.40,526.03 L362.65,526.05 L362.90,526.05 L363.15,526.00 L363.40,525.90 L363.65,525.74 L363.90,525.51 L364.15,525.22 L364.40,524.87 L364.65,524.44 L364.90,523.96 L365.15,523.44 L365.40,522.90 L365.65,522.36 L365.90,521.84 L366.15,521.34 L366.40,520.87 L366.65,520.44 L366.90,520.03 L367.15,519.64 L367.40,519.25 L367.65,518.83 L367.90,518.38 L368.15,517.88 L368.40,517.34 L368.65,516.75 L368.90,516.14 L369.15,515.52 L369.40,514.92 L369.65,514.33 L369.90,513.79 L370.15,513.28 L370.40,512.79 L370.65,512.32 L370.90,511.84 L371.15,511.36 L371.40,510.85 L371.65,510.33 L371.90,509.80 L372.15,509.27 L372.40,508.75 L372.65,508.27 L372.90,507.85 L373.15,507.53 L373.40,507.30 L373.65,507.16 L373.90,507.10 L374.15,507.11 L374.40,507.16 L374.65,507.24 L374.90,507.31 L375.15,507.37 L375.40,507.39 L375.65,507.36 L375.90,507.28 L376.15,507.16 L376.40,507.00 L376.65,506.81 L376.90,506.64 L377.15,506.49 L377.40,506.40 L377.65,506.38 L377.90,506.42 L378.15,506.50 L378.40,506.61 L378.65,506.71 L378.90,506.80 L379.15,506.83 L379.40,506.79 L379.65,506.67 L379.90,506.46 L380.15,506.17 L380.40,505.80 L380.65,505.37 L380.90,504.91 L381.15,504.45 L381.40,504.02 L381.65,503.62 L381.90,503.30 L382.15,503.06 L382.40,502.89 L382.65,502.76 L382.90,502.65 L383.15,502.52 L383.40,502.33 L383.65,502.02 L383.90,501.53 L384.15,500.84 L384.40,499.93 L384.65,498.82 L384.90,497.49 L385.15,495.97 L385.40,494.31 L385.65,492.58 L385.90,490.83 L386.15,489.08 L386.40,487.37 L386.65,485.70 L386.90,484.07 L387.15,482.46 L387.40,480.87 L387.65,479.26 L387.90,477.62 L388.15,475.94 L388.40,474.23 L388.65,472.55 L388.90,470.93 L389.15,469.43 L389.40,468.09 L389.65,466.94 L389.90,466.09 L390.15,465.65 L390.40,465.70 L390.65,466.27 L390.90,467.33 L391.15,468.78 L391.40,470.54 L391.65,472.55 L391.90,474.78 L392.15,477.19 L392.40,479.76 L392.65,482.43 L392.90,485.19 L393.15,488.05 L393.40,490.97 L393.65,493.94 L393.90,496.92 L394.15,499.84 L394.40,502.68 L394.65,505.42 L394.90,507.99 L395.15,510.34 L395.40,512.39 L395.65,514.06 L395.90,515.30 L396.15,516.09 L396.40,516.44 L396.65,516.40 L396.90,516.03 L397.15,515.38 L397.40,514.50 L397.65,513.41 L397.90,512.15 L398.15,510.77 L398.40,509.30 L398.65,507.74 L398.90,506.12 L399.15,504.48 L399.40,502.88 L399.65,501.36 L399.90,499.96 L400.15,498.70 L400.40,497.60 L400.65,496.66 L400.90,495.88 L401.15,495.26 L401.40,494.79 L401.65,494.50 L401.90,494.38 L402.15,494.43 L402.40,494.62 L402.65,494.92 L402.90,495.30 L403.15,495.75 L403.40,496.24 L403.65,496.74 L403.90,497.23 L404.15,497.68 L404.40,498.05 L404.65,498.31 L404.90,498.41 L405.15,498.31 L405.40,497.95 L405.65,497.30 L405.90,496.34 L406.15,495.08 L406.40,493.56 L406.65,491.85 L406.90,489.97 L407.15,487.98 L407.40,485.93 L407.65,483.85 L407.90,481.78 L408.15,479.73 L408.40,477.74 L408.65,475.80 L408.90,473.94 L409.15,472.14 L409.40,470.43 L409.65,468.81 L409.90,467.32 L410.15,465.99 L410.40,464.84 L410.65,463.91 L410.90,463.24 L411.15,462.90 L411.40,462.96 L411.65,463.43 L411.90,464.28 L412.15,465.43 L412.40,466.82 L412.65,468.35 L412.90,469.96 L413.15,471.62 L413.40,473.30 L413.65,474.98 L413.90,476.64 L414.15,478.30 L414.40,479.92 L414.65,481.48 L414.90,482.96 L415.15,484.32 L415.40,485.50 L415.65,486.43 L415.90,487.00 L416.15,487.15 L416.40,486.85 L416.65,486.12 L416.90,485.05 L417.15,483.75 L417.40,482.29 L417.65,480.77 L417.90,479.22 L418.15,477.69 L418.40,476.20 L418.65,474.79 L418.90,473.47 L419.15,472.29 L419.40,471.32 L419.65,470.62 L419.90,470.27 L420.15,470.34 L420.40,470.84 L420.65,471.75 L420.90,473.03 L421.15,474.61 L421.40,476.42 L421.65,478.37 L421.90,480.42 L422.15,482.55 L422.40,484.74 L422.65,486.97 L422.90,489.24 L423.15,491.54 L423.40,493.85 L423.65,496.15 L423.90,498.43 L424.15,500.65 L424.40,502.78 L424.65,504.79 L424.90,506.66 L425.15,508.39 L425.40,509.98 L425.65,511.40 L425.90,512.61 L426.15,513.57 L426.40,514.24 L426.65,514.58 L426.90,514.54 L427.15,514.09 L427.40,513.26 L427.65,512.08 L427.90,510.60 L428.15,508.86 L428.40,506.92 L428.65,504.85 L428.90,502.69 L429.15,500.47 L429.40,498.21 L429.65,495.92 L429.90,493.64 L430.15,491.38 L430.40,489.21 L430.65,487.17 L430.90,485.31 L431.15,483.67 L431.40,482.25 L431.65,481.02 L431.90,479.92 L432.15,478.90 L432.40,477.92 L432.65,476.96 L432.90,476.01 L433.15,475.05 L433.40,474.08 L433.65,473.07 L433.90,472.02 L434.15,470.93 L434.40,469.82 L434.65,468.73 L434.90,467.71 L435.15,466.77 L435.40,465.94 L435.65,465.21 L435.90,464.58 L436.15,464.04 L436.40,463.57 L436.65,463.16 L436.90,462.79 L437.15,462.47 L437.40,462.18 L437.65,461.96 L437.90,461.79 L438.15,461.68 L438.40,461.65 L438.65,461.71 L438.90,461.81 L439.15,461.96 L439.40,462.11 L439.65,462.28 L439.90,462.47 L440.15,462.68 L440.40,462.94 L440.65,463.23 L440.90,463.56 L441.15,463.94 L441.40,464.37 L441.65,464.88 L441.90,465.46 L442.15,466.14 L442.40,466.93 L442.65,467.88 L442.90,469.02 L443.15,470.36 L443.40,471.91 L443.65,473.66 L443.90,475.54 L444.15,477.48 L444.40,479.45 L444.65,481.45 L444.90,483.49 L445.15,485.58 L445.40,487.70 L445.65,489.86 L445.90,492.04 L446.15,494.23 L446.40,496.42 L446.65,498.61 L446.90,500.78 L447.15,502.90 L447.40,504.96 L447.65,506.93 L447.90,508.79 L448.15,510.51 L448.40,511.94 L448.65,512.97 L448.90,513.54 L449.15,513.68 L449.40,513.38 L449.65,512.69 L449.90,511.60 L450.15,510.17 L450.40,508.45 L450.65,506.54 L450.90,504.48 L451.15,502.30 L451.40,499.98 L451.65,497.52 L451.90,494.95 L452.15,492.31 L452.40,489.60 L452.65,486.84 L452.90,484.05 L453.15,481.28 L453.40,478.54 L453.65,475.88 L453.90,473.34 L454.15,470.98 L454.40,468.80 L454.65,466.84 L454.90,465.14 L455.15,463.77 L455.40,462.80 L455.65,462.27 L455.90,462.10 L456.15,462.19 L456.40,462.49 L456.65,462.94 L456.90,463.51 L457.15,464.20 L457.40,464.99 L457.65,465.87 L457.90,466.85 L458.15,467.91 L458.40,469.06 L458.65,470.29 L458.90,471.57 L459.15,472.88 L459.40,474.19 L459.65,475.49 L459.90,476.76 L460.15,478.02 L460.40,479.27 L460.65,480.53 L460.90,481.83 L461.15,483.18 L461.40,484.55 L461.65,485.92 L461.90,487.28 L462.15,488.67 L462.40,490.10 L462.65,491.58 L462.90,493.15 L463.15,494.81 L463.40,496.60 L463.65,498.48 L463.90,500.45 L464.15,502.47 L464.40,504.48 L464.65,506.45 L464.90,508.33 L465.15,510.07 L465.40,511.67 L465.65,513.14 L465.90,514.47 L466.15,515.65 L466.40,516.67 L466.65,517.51 L466.90,518.18 L467.15,518.61 L467.40,518.62 L467.65,518.10 L467.90,517.14 L468.15,515.88 L468.40,514.40 L468.65,512.71 L468.90,510.81 L469.15,508.72 L469.40,506.49 L469.65,504.17 L469.90,501.74 L470.15,499.17 L470.40,496.48 L470.65,493.72 L470.90,490.89 L471.15,487.99 L471.40,485.03 L471.65,482.03 L471.90,479.00 L472.15,475.96 L472.40,472.92 L472.65,469.94 L472.90,467.05 L473.15,464.31 L473.40,461.81 L473.65,459.66 L473.90,458.01 L474.15,456.93 L474.40,456.33 L474.65,456.08 L474.90,456.02 L475.15,456.09 L475.40,456.33 L475.65,456.84 L475.90,457.56 L476.15,458.37 L476.40,459.18 L476.65,459.90 L476.90,460.50 L477.15,460.97 L477.40,461.35 L477.65,461.65 L477.90,461.91 L478.15,462.11 L478.40,462.27 L478.65,462.41 L478.90,462.55 L479.15,462.70 L479.40,462.88 L479.65,463.12 L479.90,463.40 L480.15,463.74 L480.40,464.13 L480.65,464.56 L480.90,465.02 L481.15,465.49 L481.40,465.99 L481.65,466.51 L481.90,467.07 L482.15,467.69 L482.40,468.37 L482.65,469.11 L482.90,469.91 L483.15,470.75 L483.40,471.61 L483.65,472.49 L483.90,473.39 L484.15,474.32 L484.40,475.28 L484.65,476.27 L484.90,477.28 L485.15,478.31 L485.40,479.36 L485.65,480.40 L485.90,481.44 L486.15,482.45 L486.40,483.45 L486.65,484.42 L486.90,485.35 L487.15,486.24 L487.40,487.07 L487.65,487.84 L487.90,488.54 L488.15,489.20 L488.40,489.83 L488.65,490.46 L488.90,491.13 L489.15,491.84 L489.40,492.60 L489.65,493.40 L489.90,494.20 L490.15,495.00 L490.40,495.75 L490.65,496.46 L490.90,497.09 L491.15,497.63 L491.40,498.07 L491.65,498.40 L491.90,498.62 L492.15,498.73 L492.40,498.70 L492.65,498.50 L492.90,498.12 L493.15,497.54 L493.40,496.78 L493.65,495.85 L493.90,494.76 L494.15,493.50 L494.40,492.10 L494.65,490.59 L494.90,489.02 L495.15,487.41 L495.40,485.80 L495.65,484.21 L495.90,482.66 L496.15,481.15 L496.40,479.71 L496.65,478.32 L496.90,476.97 L497.15,475.65 L497.40,474.38 L497.65,473.14 L497.90,471.93 L498.15,470.73 L498.40,469.56 L498.65,468.42 L498.90,467.29 L499.15,466.19 L499.40,465.15 L499.65,464.23 L499.90,463.44 L500.15,462.77 L500.40,462.26 L500.65,461.93 L500.90,461.83 L501.15,461.97 L501.40,462.30 L501.65,462.77 L501.90,463.40 L502.15,464.16 L502.40,465.04 L502.65,465.99 L502.90,467.01 L503.15,468.09 L503.40,469.23 L503.65,470.43 L503.90,471.67 L504.15,472.93 L504.40,474.19 L504.65,475.42 L504.90,476.59 L505.15,477.69 L505.40,478.70 L505.65,479.61 L505.90,480.38 L506.15,480.98 L506.40,481.38 L506.65,481.54 L506.90,481.44 L507.15,481.08 L507.40,480.45 L507.65,479.60 L507.90,478.54 L508.15,477.30 L508.40,475.91 L508.65,474.39 L508.90,472.79 L509.15,471.16 L509.40,469.58 L509.65,468.11 L509.90,466.86 L510.15,465.91 L510.40,465.34 L510.65,465.21 L510.90,465.48 L511.15,466.12 L511.40,467.03 L511.65,468.14 L511.90,469.39 L512.15,470.73 L512.40,472.11 L512.65,473.53 L512.90,474.96 L513.15,476.38 L513.40,477.80 L513.65,479.19 L513.90,480.54 L514.15,481.85 L514.40,483.08 L514.65,484.22 L514.90,485.24 L515.15,486.12 L515.40,486.89 L515.65,487.58 L515.90,488.23 L516.15,488.90 L516.40,489.60 L516.65,490.36 L516.90,491.20 L517.15,492.11 L517.40,493.09 L517.65,494.12 L517.90,495.17 L518.15,496.21 L518.40,497.23 L518.65,498.22 L518.90,499.15 L519.15,500.01 L519.40,500.79 L519.65,501.48 L519.90,502.07 L520.15,502.55 L520.40,502.86 L520.65,502.97 L520.90,502.78 L521.15,502.26 L521.40,501.45 L521.65,500.44 L521.90,499.30 L522.15,498.06 L522.40,496.73 L522.65,495.32 L522.90,493.85 L523.15,492.35 L523.40,490.80 L523.65,489.19 L523.90,487.52 L524.15,485.80 L524.40,484.05 L524.65,482.30 L524.90,480.58 L525.15,478.93 L525.40,477.36 L525.65,475.90 L525.90,474.56 L526.15,473.34 L526.40,472.23 L526.65,471.20 L526.90,470.28 L527.15,469.51 L527.40,468.96 L527.65,468.68 L527.90,468.71 L528.15,469.05 L528.40,469.70 L528.65,470.66 L528.90,471.92 L529.15,473.47 L529.40,475.28 L529.65,477.32 L529.90,479.56 L530.15,482.00 L530.40,484.72 L530.65,487.87 L530.90,491.55 L531.15,495.76 L531.40,500.34 L531.65,505.07 L531.90,509.71 L532.15,514.10 L532.40,518.09 L532.65,521.57 L532.90,524.45 L533.15,526.70 L533.40,528.29 L533.65,529.24 L533.90,529.63 L534.15,529.59 L534.40,529.24 L534.65,528.69 L534.90,528.01 L535.15,527.29 L535.40,526.56 L535.65,525.85 L535.90,525.17 L536.15,524.49 L536.40,523.79 L536.65,523.08 L536.90,522.31 L537.15,521.44 L537.40,520.48 L537.65,519.42 L537.90,518.29 L538.15,517.11 L538.40,515.93 L538.65,514.78 L538.90,513.70 L539.15,512.70 L539.40,511.83 L539.65,511.10 L539.90,510.53 L540.15,510.14 L540.40,509.92 L540.65,509.87 L540.90,509.97 L541.15,510.19 L541.40,510.51 L541.65,510.91 L541.90,511.35 L542.15,511.82 L542.40,512.30 L542.65,512.74 L542.90,513.15 L543.15,513.48 L543.40,513.72 L543.65,513.83 L543.90,513.79 L544.15,513.56 L544.40,513.08 L544.65,512.30 L544.90,511.16 L545.15,509.62 L545.40,507.71 L545.65,505.49 L545.90,503.06 L546.15,500.46 L546.40,497.77 L546.65,495.00 L546.90,492.20 L547.15,489.38 L547.40,486.58 L547.65,483.81 L547.90,481.11 L548.15,478.50 L548.40,475.99 L548.65,473.59 L548.90,471.34 L549.15,469.27 L549.40,467.42 L549.65,465.84 L549.90,464.56 L550.15,463.57 L550.40,462.81 L550.65,462.22 L550.90,461.75 L551.15,461.38 L551.40,461.08 L551.65,460.85 L551.90,460.68 L552.15,460.57 L552.40,460.51 L552.65,460.50 L552.90,460.51 L553.15,460.53 L553.40,460.55 L553.65,460.59 L553.90,460.63 L554.15,460.72 L554.40,460.87 L554.65,461.10 L554.90,461.43 L555.15,461.88 L555.40,462.44 L555.65,463.09 L555.90,463.80 L556.15,464.54 L556.40,465.30 L556.65,466.06 L556.90,466.82 L557.15,467.58 L557.40,468.32 L557.65,469.03 L557.90,469.68 L558.15,470.23 L558.40,470.64 L558.65,470.86 L558.90,470.87 L559.15,470.67 L559.40,470.27 L559.65,469.71 L559.90,469.03 L560.15,468.25 L560.40,467.42 L560.65,466.57 L560.90,465.74 L561.15,464.99 L561.40,464.35 L561.65,463.85 L561.90,463.53 L562.15,463.39 L562.40,463.45 L562.65,463.73 L562.90,464.21 L563.15,464.85 L563.40,465.61 L563.65,466.41 L563.90,467.23 L564.15,468.05 L564.40,468.86 L564.65,469.67 L564.90,470.48 L565.15,471.30 L565.40,472.12 L565.65,472.90 L565.90,473.60 L566.15,474.16 L566.40,474.50 L566.65,474.57 L566.90,474.33 L567.15,473.80 L567.40,473.02 L567.65,472.08 L567.90,471.05 L568.15,469.98 L568.40,468.93 L568.65,467.92 L568.90,466.97 L569.15,466.12 L569.40,465.36 L569.65,464.73 L569.90,464.22 L570.15,463.85 L570.40,463.62 L570.65,463.52 L570.90,463.54 L571.15,463.65 L571.40,463.84 L571.65,464.11 L571.90,464.45 L572.15,464.89 L572.40,465.41 L572.65,466.01 L572.90,466.66 L573.15,467.34 L573.40,468.00 L573.65,468.59 L573.90,469.10 L574.15,469.52 L574.40,469.85 L574.65,470.12 L574.90,470.34 L575.15,470.56 L575.40,470.79 L575.65,471.07 L575.90,471.41 L576.15,471.82 L576.40,472.29 L576.65,472.83 L576.90,473.42 L577.15,474.03 L577.40,474.66 L577.65,475.28 L577.90,475.89 L578.15,476.49 L578.40,477.08 L578.65,477.67 L578.90,478.25 L579.15,478.85 L579.40,479.45 L579.65,480.09 L579.90,480.76 L580.15,481.49 L580.40,482.31 L580.65,483.22 L580.90,484.23 L581.15,485.35 L581.40,486.56 L581.65,487.86 L581.90,489.22 L582.15,490.63 L582.40,492.09 L582.65,493.56 L582.90,495.04 L583.15,496.50 L583.40,497.95 L583.65,499.40 L583.90,500.85 L584.15,502.32 L584.40,503.80 L584.65,505.32 L584.90,506.88 L585.15,508.48 L585.40,510.11 L585.65,511.78 L585.90,513.46 L586.15,515.11 L586.40,516.72 L586.65,518.27 L586.90,519.73 L587.15,521.08 L587.40,522.29 L587.65,523.32 L587.90,524.18 L588.15,524.87 L588.40,525.42 L588.65,525.83 L588.90,526.13 L589.15,526.34 L589.40,526.48 L589.65,526.57 L589.90,526.61 L590.15,526.61 L590.40,526.55 L590.65,526.43 L590.90,526.25 L591.15,526.03 L591.40,525.78 L591.65,525.49 L591.90,525.15 L592.15,524.77 L592.40,524.33 L592.65,523.84 L592.90,523.30 L593.15,522.73 L593.40,522.12 L593.65,521.47 L593.90,520.76 L594.15,519.96 L594.40,519.06 L594.65,518.05 L594.90,516.93 L595.15,515.74 L595.40,514.47 L595.65,513.11 L595.90,511.68 L596.15,510.18 L596.40,508.60 L596.65,506.99 L596.90,505.34 L597.15,503.69 L597.40,502.05 L597.65,500.45 L597.90,498.92 L598.15,497.48 L598.40,496.15 L598.65,494.93 L598.90,493.83 L599.15,492.85 L599.40,491.98 L599.65,491.18 L599.90,490.42 L600.15,489.66 L600.40,488.87 L600.65,488.04 L600.90,487.16 L601.15,486.21 L601.40,485.20 L601.65,484.13 L601.90,483.00 L602.15,481.82 L602.40,480.60 L602.65,479.35 L602.90,478.08 L603.15,476.79 L603.40,475.50 L603.65,474.22 L603.90,472.95 L604.15,471.71 L604.40,470.50 L604.65,469.33 L604.90,468.19 L605.15,467.08 L605.40,466.00 L605.65,464.97 L605.90,463.99 L606.15,463.06 L606.40,462.19 L606.65,461.39 L606.90,460.67 L607.15,460.09 L607.40,459.66 L607.65,459.45 L607.90,459.47 L608.15,459.75 L608.40,460.32 L608.65,461.17 L608.90,462.34 L609.15,463.86 L609.40,465.72 L609.65,467.86 L609.90,470.22 L610.15,472.69 L610.40,475.22 L610.65,477.75 L610.90,480.24 L611.15,482.69 L611.40,485.07 L611.65,487.40 L611.90,489.68 L612.15,491.92 L612.40,494.12 L612.65,496.28 L612.90,498.39 L613.15,500.44 L613.40,502.37 L613.65,504.16 L613.90,505.76 L614.15,507.17 L614.40,508.41 L614.65,509.50 L614.90,510.49 L615.15,511.42 L615.40,512.31 L615.65,513.19 L615.90,514.06 L616.15,514.94 L616.40,515.83 L616.65,516.72 L616.90,517.62 L617.15,518.49 L617.40,519.33 L617.65,520.14 L617.90,520.93 L618.15,521.70 L618.40,522.47 L618.65,523.23 L618.90,523.97 L619.15,524.67 L619.40,525.25 L619.65,525.66 L619.90,525.85 L620.15,525.80 L620.40,525.53 L620.65,525.07 L620.90,524.51 L621.15,523.97 L621.40,523.56 L621.65,523.40 L621.90,523.53 L622.15,523.94 L622.40,524.54 L622.65,525.25 L622.90,525.98 L623.15,526.69 L623.40,527.33 L623.65,527.88 L623.90,528.33 L624.15,528.65 L624.40,528.81 L624.65,528.80 L624.90,528.58 L625.15,528.17 L625.40,527.57 L625.65,526.82 L625.90,525.95 L626.15,525.01 L626.40,524.02 L626.65,523.02 L626.90,522.04 L627.15,521.11 L627.40,520.25 L627.65,519.44 L627.90,518.69 L628.15,517.98 L628.40,517.29 L628.65,516.60 L628.90,515.89 L629.15,515.13 L629.40,514.33 L629.65,513.46 L629.90,512.53 L630.15,511.54 L630.40,510.48 L630.65,509.40 L630.90,508.29 L631.15,507.16 L631.40,505.98 L631.65,504.72 L631.90,503.40 L632.15,502.03 L632.40,500.60 L632.65,499.11 L632.90,497.54 L633.15,495.87 L633.40,494.11 L633.65,492.28 L633.90,490.38 L634.15,488.43 L634.40,486.45 L634.65,484.47 L634.90,482.51 L635.15,480.59 L635.40,478.75 L635.65,477.02 L635.90,475.38 L636.15,473.84 L636.40,472.42 L636.65,471.15 L636.90,470.04 L637.15,469.13 L637.40,468.43 L637.65,468.01 L637.90,467.88 L638.15,468.08 L638.40,468.59 L638.65,469.38 L638.90,470.42 L639.15,471.70 L639.40,473.18 L639.65,474.82 L639.90,476.59 L640.15,478.46 L640.40,480.42 L640.65,482.44 L640.90,484.47 L641.15,486.47 L641.40,488.36 L641.65,490.07 L641.90,491.54 L642.15,492.66 L642.40,493.36 L642.65,493.56 L642.90,493.27 L643.15,492.53 L643.40,491.43 L643.65,490.04 L643.90,488.43 L644.15,486.66 L644.40,484.79 L644.65,482.88 L644.90,480.98 L645.15,479.15 L645.40,477.43 L645.65,475.86 L645.90,474.46 L646.15,473.25 L646.40,472.26 L646.65,471.56 L646.90,471.22 L647.15,471.30 L647.40,471.87 L647.65,472.94 L647.90,474.45 L648.15,476.32 L648.40,478.47 L648.65,480.86 L648.90,483.40 L649.15,486.04 L649.40,488.73 L649.65,491.44 L649.90,494.14 L650.15,496.82 L650.40,499.46 L650.65,502.06 L650.90,504.60 L651.15,507.07 L651.40,509.44 L651.65,511.64 L651.90,513.60 L652.15,515.27 L652.40,516.63 L652.65,517.70 L652.90,518.52 L653.15,519.14 L653.40,519.58 L653.65,519.88 L653.90,520.07 L654.15,520.19 L654.40,520.27 L654.65,520.33 L654.90,520.38 L655.15,520.46 L655.40,520.56 L655.65,520.70 L655.90,520.89 L656.15,521.15 L656.40,521.48 L656.65,521.89 L656.90,522.33" stroke="#7cc0f8" stroke-width="1.1" stroke-linejoin="round" fill="none"/>
<path d="M3.20,523.10 L3.60,523.04 L4.21,523.01 L4.96,522.98 L5.80,522.90 L6.66,522.75 L7.49,522.49 L8.22,522.08 L8.80,521.50 L9.30,520.49 L9.81,518.94 L10.35,517.05 L10.88,515.02 L11.40,513.05 L11.91,511.35 L12.37,510.09 L12.80,509.50 L13.23,509.70 L13.72,510.57 L14.25,511.88 L14.80,513.42 L15.35,514.97 L15.88,516.31 L16.37,517.23 L16.80,517.50 L17.24,517.05 L17.74,516.06 L18.28,514.66 L18.84,513.02 L19.39,511.29 L19.92,509.62 L20.40,508.18 L20.80,507.10 L21.18,506.23 L21.59,505.34 L22.01,504.43 L22.44,503.54 L22.87,502.70 L23.27,501.93 L23.66,501.25 L24.00,500.70 L24.34,500.36 L24.72,500.21 L25.13,500.16 L25.56,500.10 L25.99,499.90 L26.41,499.48 L26.82,498.71 L27.20,497.50 L27.61,495.31 L28.10,491.97 L28.64,487.90 L29.20,483.51 L29.77,479.23 L30.31,475.48 L30.80,472.66 L31.20,471.20 L31.57,471.08 L31.97,471.86 L32.38,473.35 L32.79,475.35 L33.20,477.69 L33.59,480.15 L33.96,482.55 L34.30,484.70 L34.63,487.31 L34.99,490.96 L35.37,495.20 L35.78,499.62 L36.19,503.76 L36.62,507.21 L37.06,509.54 L37.50,510.30 L38.02,509.12 L38.67,506.25 L39.42,502.18 L40.22,497.42 L41.03,492.46 L41.80,487.82 L42.51,484.00 L43.10,481.50 L43.65,480.05 L44.26,479.01 L44.89,478.30 L45.54,477.83 L46.18,477.53 L46.80,477.31 L47.38,477.09 L47.90,476.80 L48.43,476.42 L49.05,476.00 L49.73,475.57 L50.42,475.17 L51.10,474.82 L51.73,474.55 L52.27,474.40 L52.70,474.40 L53.04,474.41 L53.36,474.35 L53.66,474.33 L53.94,474.44 L54.22,474.81 L54.50,475.52 L54.79,476.68 L55.10,478.40 L55.47,481.46 L55.92,486.17 L56.43,491.92 L56.98,498.11 L57.54,504.13 L58.10,509.37 L58.63,513.23 L59.10,515.10 L59.59,514.65 L60.16,512.35 L60.80,508.78 L61.46,504.50 L62.13,500.09 L62.77,496.14 L63.37,493.22 L63.90,491.90 L64.42,492.48 L65.01,494.51 L65.64,497.48 L66.30,500.90 L66.96,504.23 L67.59,506.98 L68.18,508.64 L68.70,508.70 L69.22,506.56 L69.81,502.43 L70.44,496.97 L71.10,490.88 L71.76,484.81 L72.39,479.46 L72.98,475.50 L73.50,473.60 L74.02,474.00 L74.59,476.13 L75.22,479.46 L75.86,483.48 L76.51,487.65 L77.14,491.46 L77.75,494.39 L78.30,495.90 L78.87,496.14 L79.52,495.70 L80.23,494.70 L80.98,493.29 L81.74,491.61 L82.50,489.79 L83.23,487.97 L83.90,486.30 L84.63,484.30 L85.52,481.59 L86.51,478.43 L87.55,475.07 L88.57,471.77 L89.55,468.79 L90.41,466.38 L91.10,464.80 L91.70,463.91 L92.30,463.37 L92.89,463.12 L93.49,463.12 L94.08,463.34 L94.66,463.72 L95.24,464.22 L95.80,464.80 L96.43,465.50 L97.18,466.41 L98.03,467.53 L98.92,468.88 L99.82,470.48 L100.69,472.32 L101.50,474.42 L102.20,476.80 L102.90,480.12 L103.70,484.76 L104.55,490.27 L105.44,496.19 L106.32,502.08 L107.16,507.50 L107.94,511.99 L108.60,515.10 L109.23,517.28 L109.89,519.23 L110.60,520.89 L111.32,522.17 L112.05,523.03 L112.79,523.38 L113.50,523.16 L114.20,522.30 L115.00,520.13 L116.01,516.39 L117.13,511.61 L118.32,506.34 L119.49,501.11 L120.58,496.47 L121.50,492.95 L122.20,491.10 L122.73,491.06 L123.21,492.35 L123.64,494.56 L124.04,497.30 L124.41,500.17 L124.75,502.75 L125.08,504.67 L125.40,505.50 L125.74,505.09 L126.12,503.75 L126.53,501.81 L126.96,499.58 L127.39,497.39 L127.81,495.57 L128.22,494.43 L128.60,494.30 L129.00,495.39 L129.47,497.51 L129.98,500.35 L130.52,503.62 L131.07,507.03 L131.61,510.27 L132.13,513.06 L132.60,515.10 L133.10,516.72 L133.69,518.39 L134.35,520.05 L135.04,521.62 L135.72,523.02 L136.37,524.19 L136.94,525.04 L137.40,525.50 L137.80,525.69 L138.22,525.75 L138.63,525.61 L139.04,525.22 L139.45,524.51 L139.84,523.42 L140.23,521.91 L140.60,519.90 L141.01,516.70 L141.50,511.99 L142.03,506.27 L142.60,500.03 L143.17,493.78 L143.70,488.03 L144.19,483.27 L144.60,480.00 L144.97,477.98 L145.37,476.54 L145.77,475.55 L146.19,474.88 L146.61,474.41 L147.02,473.99 L147.42,473.49 L147.80,472.80 L148.22,471.78 L148.72,470.49 L149.27,469.03 L149.86,467.52 L150.45,466.07 L151.02,464.79 L151.55,463.80 L152.00,463.20 L152.45,463.01 L152.95,463.11 L153.49,463.43 L154.05,463.88 L154.60,464.40 L155.12,464.91 L155.60,465.33 L156.00,465.60 L156.37,465.63 L156.75,465.46 L157.15,465.20 L157.56,464.96 L157.97,464.86 L158.38,464.99 L158.80,465.47 L159.20,466.40 L159.66,468.00 L160.20,470.29 L160.82,473.12 L161.48,476.31 L162.15,479.71 L162.81,483.15 L163.44,486.47 L164.00,489.50 L164.59,493.08 L165.28,497.82 L166.05,503.23 L166.84,508.81 L167.64,514.09 L168.39,518.55 L169.05,521.72 L169.60,523.10 L170.10,522.48 L170.63,520.24 L171.17,516.81 L171.71,512.58 L172.23,507.96 L172.71,503.37 L173.14,499.21 L173.50,495.90 L173.80,492.79 L174.08,489.12 L174.35,485.12 L174.61,481.01 L174.89,477.02 L175.19,473.37 L175.53,470.29 L175.90,468.00 L176.39,466.25 L177.04,464.67 L177.80,463.26 L178.62,462.05 L179.45,461.05 L180.24,460.28 L180.94,459.76 L181.50,459.50 L182.00,459.65 L182.53,460.23 L183.07,461.13 L183.62,462.20 L184.15,463.32 L184.65,464.35 L185.11,465.15 L185.50,465.60 L185.86,465.69 L186.22,465.57 L186.60,465.30 L186.98,464.94 L187.38,464.57 L187.79,464.24 L188.23,464.03 L188.70,464.00 L189.29,464.12 L190.04,464.32 L190.92,464.60 L191.86,464.96 L192.80,465.40 L193.69,465.92 L194.48,466.52 L195.10,467.20 L195.63,468.18 L196.19,469.58 L196.75,471.25 L197.30,473.04 L197.82,474.80 L198.31,476.38 L198.74,477.63 L199.10,478.40 L199.40,478.49 L199.66,477.97 L199.90,477.11 L200.14,476.16 L200.40,475.40 L200.71,475.08 L201.06,475.46 L201.50,476.80 L202.13,479.75 L203.00,484.41 L204.03,490.21 L205.14,496.59 L206.24,502.99 L207.26,508.85 L208.11,513.61 L208.70,516.70 L209.07,518.46 L209.32,519.64 L209.50,520.31 L209.62,520.54 L209.73,520.38 L209.85,519.91 L210.03,519.19 L210.30,518.30 L210.67,516.64 L211.14,513.87 L211.69,510.40 L212.30,506.66 L212.96,503.08 L213.66,500.07 L214.38,498.07 L215.10,497.50 L215.97,498.81 L217.08,501.79 L218.36,505.90 L219.74,510.58 L221.14,515.27 L222.48,519.43 L223.69,522.49 L224.70,523.90 L225.62,523.75 L226.61,522.63 L227.65,520.71 L228.70,518.17 L229.76,515.21 L230.80,511.98 L231.78,508.69 L232.70,505.50 L233.70,501.52 L234.92,496.07 L236.26,489.69 L237.65,482.91 L239.02,476.26 L240.28,470.27 L241.37,465.47 L242.20,462.40 L242.84,460.93 L243.43,460.44 L243.98,460.69 L244.47,461.44 L244.94,462.47 L245.38,463.53 L245.80,464.38 L246.20,464.80 L246.63,464.82 L247.11,464.68 L247.62,464.46 L248.16,464.24 L248.70,464.09 L249.23,464.08 L249.74,464.29 L250.20,464.80 L250.68,465.63 L251.23,466.75 L251.84,468.13 L252.48,469.76 L253.13,471.63 L253.78,473.70 L254.41,475.96 L255.00,478.40 L255.66,481.69 L256.46,486.25 L257.37,491.61 L258.32,497.35 L259.25,503.01 L260.11,508.15 L260.85,512.33 L261.40,515.10 L261.80,516.76 L262.15,517.92 L262.45,518.64 L262.72,518.94 L262.98,518.85 L263.23,518.43 L263.50,517.70 L263.80,516.70 L264.17,514.93 L264.64,512.08 L265.16,508.53 L265.72,504.62 L266.29,500.73 L266.85,497.20 L267.36,494.40 L267.80,492.70 L268.23,492.12 L268.71,492.28 L269.23,492.97 L269.76,493.94 L270.30,494.95 L270.83,495.77 L271.33,496.17 L271.80,495.90 L272.30,494.84 L272.88,493.11 L273.53,490.92 L274.20,488.43 L274.88,485.83 L275.52,483.31 L276.10,481.03 L276.60,479.20 L277.06,477.43 L277.55,475.34 L278.06,473.07 L278.59,470.81 L279.12,468.68 L279.63,466.87 L280.13,465.52 L280.60,464.80 L281.11,464.79 L281.73,465.37 L282.42,466.38 L283.14,467.64 L283.85,469.00 L284.53,470.29 L285.12,471.35 L285.60,472.00 L286.02,472.30 L286.44,472.43 L286.87,472.44 L287.29,472.40 L287.70,472.36 L288.09,472.38 L288.46,472.50 L288.80,472.80 L289.15,473.42 L289.54,474.40 L289.96,475.60 L290.40,476.88 L290.84,478.10 L291.26,479.11 L291.65,479.80 L292.00,480.00 L292.35,479.56 L292.75,478.54 L293.19,477.12 L293.64,475.52 L294.08,473.93 L294.50,472.54 L294.88,471.57 L295.20,471.20 L295.48,471.32 L295.77,471.69 L296.06,472.33 L296.36,473.25 L296.66,474.46 L296.97,475.98 L297.28,477.82 L297.60,480.00 L297.98,483.26 L298.45,487.98 L298.99,493.64 L299.56,499.75 L300.14,505.78 L300.69,511.22 L301.19,515.57 L301.60,518.30 L301.98,519.48 L302.38,519.68 L302.81,519.18 L303.24,518.21 L303.67,517.07 L304.07,515.99 L304.46,515.25 L304.80,515.10 L305.14,515.59 L305.53,516.50 L305.94,517.69 L306.37,519.02 L306.80,520.36 L307.22,521.58 L307.63,522.54 L308.00,523.10 L308.39,523.43 L308.85,523.75 L309.34,523.98 L309.87,524.06 L310.41,523.92 L310.93,523.49 L311.44,522.71 L311.90,521.50 L312.38,519.53 L312.94,516.68 L313.56,513.17 L314.22,509.26 L314.88,505.17 L315.53,501.15 L316.14,497.45 L316.70,494.30 L317.29,491.06 L317.98,487.12 L318.74,482.78 L319.54,478.35 L320.33,474.12 L321.08,470.38 L321.75,467.44 L322.30,465.60 L322.80,464.85 L323.33,464.87 L323.88,465.47 L324.42,466.44 L324.95,467.62 L325.45,468.80 L325.91,469.79 L326.30,470.40 L326.67,470.71 L327.06,470.94 L327.45,471.13 L327.86,471.33 L328.27,471.55 L328.69,471.85 L329.10,472.25 L329.50,472.80 L329.96,473.54 L330.53,474.48 L331.18,475.60 L331.86,476.87 L332.55,478.28 L333.20,479.80 L333.80,481.41 L334.30,483.10 L334.76,485.48 L335.24,488.90 L335.74,492.93 L336.26,497.13 L336.78,501.08 L337.30,504.35 L337.81,506.50 L338.30,507.10 L338.86,505.71 L339.57,502.53 L340.35,498.12 L341.18,493.03 L342.00,487.80 L342.75,482.99 L343.41,479.14 L343.90,476.80 L344.27,475.86 L344.60,475.70 L344.90,476.09 L345.18,476.85 L345.45,477.74 L345.71,478.57 L346.00,479.13 L346.30,479.20 L346.68,478.73 L347.15,477.88 L347.69,476.78 L348.26,475.56 L348.84,474.34 L349.39,473.26 L349.89,472.44 L350.30,472.00 L350.67,471.73 L351.06,471.41 L351.45,471.15 L351.86,471.08 L352.27,471.33 L352.69,472.02 L353.10,473.27 L353.50,475.20 L353.97,478.57 L354.56,483.66 L355.23,489.89 L355.94,496.71 L356.64,503.53 L357.30,509.78 L357.86,514.90 L358.30,518.30 L358.64,520.24 L358.94,521.45 L359.23,522.10 L359.50,522.33 L359.77,522.32 L360.06,522.20 L360.36,522.14 L360.70,522.30 L361.11,522.72 L361.60,523.29 L362.17,523.91 L362.78,524.50 L363.44,524.96 L364.13,525.21 L364.82,525.15 L365.50,524.70 L366.32,523.58 L367.38,521.75 L368.60,519.43 L369.89,516.86 L371.18,514.27 L372.38,511.89 L373.41,509.96 L374.20,508.70 L374.80,508.07 L375.33,507.81 L375.82,507.80 L376.27,507.94 L376.72,508.12 L377.18,508.25 L377.67,508.21 L378.20,507.90 L378.86,507.36 L379.70,506.67 L380.66,505.84 L381.68,504.85 L382.72,503.70 L383.72,502.36 L384.63,500.83 L385.40,499.10 L386.13,496.43 L386.94,492.44 L387.80,487.67 L388.68,482.68 L389.55,477.99 L390.38,474.15 L391.14,471.71 L391.80,471.20 L392.44,473.30 L393.14,477.82 L393.88,483.96 L394.64,490.95 L395.39,498.02 L396.12,504.39 L396.80,509.28 L397.40,511.90 L398.02,512.25 L398.72,511.12 L399.49,508.90 L400.28,506.01 L401.06,502.86 L401.79,499.85 L402.45,497.40 L403.00,495.90 L403.49,495.32 L403.99,495.23 L404.49,495.43 L405.00,495.74 L405.51,495.96 L406.01,495.92 L406.51,495.43 L407.00,494.30 L407.55,491.96 L408.22,488.28 L408.97,483.75 L409.76,478.88 L410.56,474.13 L411.32,470.01 L412.01,467.00 L412.60,465.60 L413.16,466.07 L413.77,468.04 L414.42,471.05 L415.07,474.64 L415.73,478.34 L416.34,481.70 L416.91,484.24 L417.40,485.50 L417.86,485.27 L418.34,483.92 L418.85,481.86 L419.37,479.48 L419.89,477.20 L420.43,475.42 L420.97,474.55 L421.50,475.00 L422.12,477.42 L422.90,481.76 L423.78,487.34 L424.71,493.49 L425.65,499.53 L426.55,504.79 L427.35,508.61 L428.00,510.30 L428.58,509.69 L429.19,507.37 L429.82,503.80 L430.45,499.42 L431.07,494.70 L431.68,490.11 L432.26,486.09 L432.80,483.10 L433.38,480.58 L434.05,477.75 L434.79,474.79 L435.56,471.87 L436.34,469.16 L437.09,466.83 L437.79,465.05 L438.40,464.00 L439.00,463.55 L439.68,463.46 L440.41,463.74 L441.16,464.37 L441.92,465.36 L442.66,466.69 L443.36,468.38 L444.00,470.40 L444.66,473.71 L445.44,478.79 L446.28,484.95 L447.16,491.50 L448.05,497.77 L448.91,503.04 L449.70,506.65 L450.40,507.90 L451.10,506.19 L451.89,501.91 L452.75,495.87 L453.63,488.87 L454.50,481.69 L455.33,475.16 L456.07,470.06 L456.70,467.20 L457.27,466.29 L457.85,466.41 L458.45,467.36 L459.05,468.97 L459.67,471.06 L460.28,473.45 L460.90,475.95 L461.50,478.40 L462.19,481.84 L463.05,486.97 L464.00,493.11 L465.02,499.54 L466.05,505.58 L467.03,510.52 L467.94,513.66 L468.70,514.30 L469.44,511.68 L470.28,506.11 L471.18,498.49 L472.10,489.75 L472.99,480.77 L473.81,472.48 L474.53,465.79 L475.10,461.60 L475.56,459.54 L475.98,458.50 L476.37,458.26 L476.74,458.61 L477.11,459.33 L477.49,460.21 L477.88,461.04 L478.30,461.60 L478.82,462.04 L479.46,462.63 L480.19,463.37 L480.98,464.24 L481.78,465.23 L482.56,466.32 L483.28,467.52 L483.90,468.80 L484.51,470.49 L485.21,472.79 L485.96,475.50 L486.74,478.41 L487.51,481.31 L488.25,484.02 L488.92,486.31 L489.50,488.00 L490.04,489.44 L490.61,491.02 L491.21,492.60 L491.82,494.03 L492.44,495.14 L493.07,495.79 L493.69,495.83 L494.30,495.10 L494.99,492.99 L495.85,489.34 L496.80,484.68 L497.82,479.55 L498.85,474.46 L499.84,469.95 L500.74,466.55 L501.50,464.80 L502.24,464.86 L503.07,466.27 L503.96,468.61 L504.86,471.48 L505.74,474.47 L506.57,477.16 L507.30,479.14 L507.90,480.00 L508.42,479.57 L508.95,478.19 L509.47,476.17 L509.98,473.84 L510.49,471.54 L510.98,469.58 L511.45,468.29 L511.90,468.00 L512.38,468.86 L512.93,470.63 L513.53,473.07 L514.17,475.91 L514.82,478.91 L515.45,481.81 L516.05,484.36 L516.60,486.30 L517.17,488.11 L517.83,490.29 L518.55,492.62 L519.31,494.89 L520.09,496.89 L520.84,498.40 L521.56,499.21 L522.20,499.10 L522.88,497.58 L523.70,494.61 L524.59,490.68 L525.52,486.28 L526.43,481.88 L527.29,477.98 L528.02,475.06 L528.60,473.60 L529.07,473.51 L529.52,474.25 L529.95,475.67 L530.36,477.63 L530.75,479.99 L531.12,482.58 L531.47,485.27 L531.80,487.90 L532.13,491.31 L532.48,496.07 L532.85,501.69 L533.24,507.66 L533.65,513.45 L534.08,518.56 L534.53,522.48 L535.00,524.70 L535.58,525.17 L536.33,524.38 L537.19,522.68 L538.12,520.38 L539.06,517.83 L539.95,515.34 L540.75,513.25 L541.40,511.90 L541.98,511.26 L542.60,511.00 L543.23,510.92 L543.88,510.86 L544.51,510.62 L545.11,510.03 L545.68,508.92 L546.20,507.10 L546.73,503.91 L547.33,499.17 L547.97,493.40 L548.64,487.11 L549.32,480.83 L549.97,475.07 L550.57,470.35 L551.10,467.20 L551.64,465.34 L552.25,464.08 L552.91,463.31 L553.59,462.93 L554.27,462.83 L554.92,462.91 L555.50,463.07 L556.00,463.20 L556.47,463.50 L556.98,464.15 L557.51,465.04 L558.04,466.04 L558.58,467.04 L559.09,467.91 L559.57,468.54 L560.00,468.80 L560.43,468.60 L560.93,468.01 L561.45,467.16 L562.00,466.20 L562.55,465.27 L563.07,464.50 L563.57,464.03 L564.00,464.00 L564.43,464.59 L564.93,465.75 L565.45,467.29 L566.00,469.00 L566.55,470.68 L567.07,472.15 L567.57,473.18 L568.00,473.60 L568.42,473.25 L568.88,472.26 L569.37,470.83 L569.88,469.20 L570.41,467.57 L570.95,466.14 L571.48,465.15 L572.00,464.80 L572.60,465.11 L573.36,465.88 L574.21,467.02 L575.11,468.40 L576.02,469.94 L576.88,471.53 L577.66,473.05 L578.30,474.40 L578.87,475.73 L579.46,477.25 L580.08,478.94 L580.69,480.79 L581.32,482.78 L581.93,484.91 L582.53,487.15 L583.10,489.50 L583.74,492.58 L584.50,496.75 L585.36,501.62 L586.26,506.77 L587.17,511.82 L588.04,516.36 L588.83,519.99 L589.50,522.30 L590.14,523.52 L590.84,524.19 L591.58,524.36 L592.34,524.10 L593.09,523.46 L593.82,522.51 L594.50,521.30 L595.10,519.90 L595.70,517.90 L596.38,515.00 L597.11,511.47 L597.86,507.53 L598.62,503.45 L599.36,499.45 L600.06,495.79 L600.70,492.70 L601.38,489.60 L602.20,485.90 L603.09,481.87 L604.02,477.75 L604.93,473.81 L605.79,470.30 L606.52,467.47 L607.10,465.60 L607.56,464.42 L607.99,463.53 L608.39,462.97 L608.78,462.77 L609.16,462.98 L609.53,463.63 L609.91,464.76 L610.30,466.40 L610.76,469.16 L611.30,473.32 L611.92,478.46 L612.58,484.15 L613.25,489.97 L613.91,495.48 L614.54,500.27 L615.10,503.90 L615.70,506.92 L616.41,510.07 L617.20,513.22 L618.02,516.25 L618.83,519.04 L619.57,521.46 L620.21,523.39 L620.70,524.70 L621.08,525.36 L621.42,525.51 L621.73,525.29 L622.02,524.82 L622.29,524.23 L622.56,523.67 L622.83,523.24 L623.10,523.10 L623.40,523.33 L623.74,523.85 L624.10,524.52 L624.50,525.22 L624.92,525.80 L625.37,526.13 L625.83,526.08 L626.30,525.50 L626.87,524.26 L627.60,522.40 L628.44,520.05 L629.35,517.34 L630.27,514.39 L631.17,511.35 L631.99,508.34 L632.70,505.50 L633.40,502.03 L634.19,497.39 L635.05,492.03 L635.93,486.44 L636.80,481.08 L637.63,476.44 L638.37,472.99 L639.00,471.20 L639.58,471.35 L640.19,473.07 L640.83,475.89 L641.47,479.31 L642.11,482.87 L642.72,486.08 L643.29,488.45 L643.80,489.50 L644.32,488.97 L644.91,487.22 L645.54,484.68 L646.20,481.81 L646.86,479.06 L647.49,476.85 L648.08,475.65 L648.60,475.90 L649.12,478.06 L649.71,481.94 L650.34,487.03 L651.00,492.78 L651.66,498.67 L652.29,504.18 L652.88,508.76 L653.40,511.90 L653.95,513.94 L654.60,515.63 L655.31,517.00 L656.04,518.10 L656.74,518.98 L657.36,519.67 L657.86,520.23 L658.20,520.70" stroke="#e65aa6" stroke-width="1.1" stroke-linejoin="round" fill="none"/>
<g font-family="Liberation Sans, sans-serif" font-size="10" fill="#464a53" stroke="#464a53" stroke-width="0.25">
<g clip-path="url(#pa)"><g transform="translate(987,0) scale(0.78,1) translate(-987,0)"><text x="987" y="7.85">0.74000</text><text x="987" y="44.10">0.73000</text><text x="987" y="80.35">0.72000</text><text x="987" y="116.60">0.71000</text><text x="987" y="152.85">0.70000</text><text x="987" y="189.10">0.69000</text><text x="987" y="225.35">0.68000</text><text x="987" y="261.60">0.67000</text><text x="987" y="297.85">0.66000</text><text x="987" y="334.10">0.65000</text><text x="987" y="370.35">0.64000</text><text x="987" y="406.60">0.63000</text><text x="987" y="442.85">0.62000</text></g></g><g transform="translate(987,0) scale(0.78,1) translate(-987,0)"><text x="987" y="476.10">80.00</text><text x="987" y="505.10">40.00</text><text x="987" y="532.90">0.00</text></g>
</g>
<g font-family="Liberation Sans, sans-serif" font-size="9" fill="#464a53" stroke="#464a53" stroke-width="0.2"><text transform="translate(36.90,548.8) scale(0.88,1)" x="0" y="0" text-anchor="middle">17</text><text transform="translate(117.70,548.8) scale(0.88,1)" x="0" y="0" text-anchor="middle">Nov</text><text transform="translate(184.00,548.8) scale(0.88,1)" x="0" y="0" text-anchor="middle">14</text><text transform="translate(279.50,548.8) scale(0.88,1)" x="0" y="0" text-anchor="middle">Dec</text><text transform="translate(331.00,548.8) scale(0.88,1)" x="0" y="0" text-anchor="middle">12</text><text transform="translate(382.50,548.8) scale(0.88,1)" x="0" y="0" text-anchor="middle">21</text><text transform="translate(439.25,548.8) scale(0.88,1)" x="0" y="0" text-anchor="middle" font-weight="bold">2023</text><text transform="translate(511.50,548.8) scale(0.88,1)" x="0" y="0" text-anchor="middle">16</text><text transform="translate(600.00,548.8) scale(0.88,1)" x="0" y="0" text-anchor="middle">Feb</text><text transform="translate(658.75,548.8) scale(0.88,1)" x="0" y="0" text-anchor="middle">13</text><text transform="translate(746.50,548.8) scale(0.88,1)" x="0" y="0" text-anchor="middle">Mar</text><text transform="translate(805.75,548.8) scale(0.88,1)" x="0" y="0" text-anchor="middle">13</text><text transform="translate(857.60,548.8) scale(0.88,1)" x="0" y="0" text-anchor="middle">22</text><text transform="translate(915.50,548.8) scale(0.88,1)" x="0" y="0" text-anchor="middle">Apr</text></g>
<text transform="translate(9,27.5) scale(0.78,1)" x="0" y="0" font-family="Liberation Sans, sans-serif" font-size="19.5" fill="#1a1a1a">AUD/USD: 4-hour</text>
<g fill="#131722">
<path d="M2.8,565.9 H7.8 V572.8 H5.6 V568.1 H2.8 Z"/>
<circle cx="9.7" cy="567.2" r="1.15"/>
<path d="M10.7,565.9 H13.5 L11.1,572.8 H8.6 Z"/>
</g>
<text transform="translate(16.3,573) scale(0.77,1)" x="0" y="0" font-family="Liberation Sans, sans-serif" font-size="9.2" fill="#5d5d5d">TradingView</text>
</svg>
</body></html>
